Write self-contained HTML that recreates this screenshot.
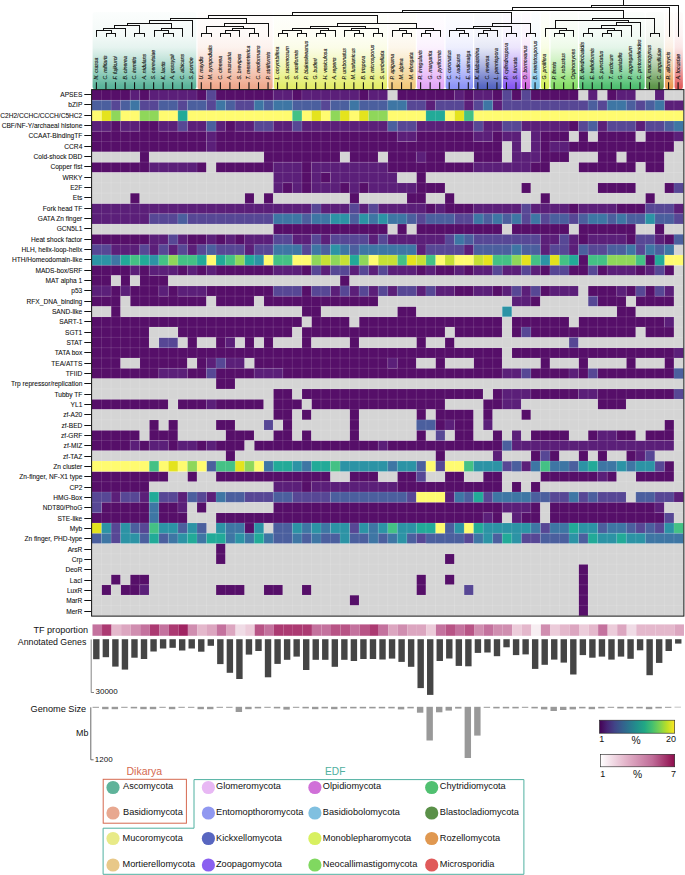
<!DOCTYPE html><html><head><meta charset="utf-8"><style>html,body{margin:0;padding:0;background:#fff;}svg{display:block;}text{font-family:"Liberation Sans",sans-serif;}</style></head><body>
<svg width="685" height="875" viewBox="0 0 685 875">
<rect width="685" height="875" fill="#fff"/>
<defs>
<linearGradient id="g0" x1="0" y1="0" x2="0" y2="1"><stop offset="0" stop-color="#55b297" stop-opacity="0.02"/><stop offset="0.3" stop-color="#55b297" stop-opacity="0.07"/><stop offset="0.46" stop-color="#55b297" stop-opacity="0.15"/><stop offset="0.59" stop-color="#55b297" stop-opacity="0.32"/><stop offset="0.71" stop-color="#55b297" stop-opacity="0.5"/><stop offset="0.82" stop-color="#55b297" stop-opacity="0.7"/><stop offset="0.95" stop-color="#55b297" stop-opacity="0.95"/><stop offset="1" stop-color="#55b297" stop-opacity="1"/></linearGradient>
<linearGradient id="g1" x1="0" y1="0" x2="0" y2="1"><stop offset="0" stop-color="#eea68a" stop-opacity="0.02"/><stop offset="0.3" stop-color="#eea68a" stop-opacity="0.07"/><stop offset="0.46" stop-color="#eea68a" stop-opacity="0.15"/><stop offset="0.59" stop-color="#eea68a" stop-opacity="0.32"/><stop offset="0.71" stop-color="#eea68a" stop-opacity="0.5"/><stop offset="0.82" stop-color="#eea68a" stop-opacity="0.7"/><stop offset="0.95" stop-color="#eea68a" stop-opacity="0.95"/><stop offset="1" stop-color="#eea68a" stop-opacity="1"/></linearGradient>
<linearGradient id="g2" x1="0" y1="0" x2="0" y2="1"><stop offset="0" stop-color="#e2ec66" stop-opacity="0.02"/><stop offset="0.3" stop-color="#e2ec66" stop-opacity="0.07"/><stop offset="0.46" stop-color="#e2ec66" stop-opacity="0.15"/><stop offset="0.59" stop-color="#e2ec66" stop-opacity="0.32"/><stop offset="0.71" stop-color="#e2ec66" stop-opacity="0.5"/><stop offset="0.82" stop-color="#e2ec66" stop-opacity="0.7"/><stop offset="0.95" stop-color="#e2ec66" stop-opacity="0.95"/><stop offset="1" stop-color="#e2ec66" stop-opacity="1"/></linearGradient>
<linearGradient id="g3" x1="0" y1="0" x2="0" y2="1"><stop offset="0" stop-color="#f0c878" stop-opacity="0.02"/><stop offset="0.3" stop-color="#f0c878" stop-opacity="0.07"/><stop offset="0.46" stop-color="#f0c878" stop-opacity="0.15"/><stop offset="0.59" stop-color="#f0c878" stop-opacity="0.32"/><stop offset="0.71" stop-color="#f0c878" stop-opacity="0.5"/><stop offset="0.82" stop-color="#f0c878" stop-opacity="0.7"/><stop offset="0.95" stop-color="#f0c878" stop-opacity="0.95"/><stop offset="1" stop-color="#f0c878" stop-opacity="1"/></linearGradient>
<linearGradient id="g4" x1="0" y1="0" x2="0" y2="1"><stop offset="0" stop-color="#e2a4f6" stop-opacity="0.02"/><stop offset="0.3" stop-color="#e2a4f6" stop-opacity="0.07"/><stop offset="0.46" stop-color="#e2a4f6" stop-opacity="0.15"/><stop offset="0.59" stop-color="#e2a4f6" stop-opacity="0.32"/><stop offset="0.71" stop-color="#e2a4f6" stop-opacity="0.5"/><stop offset="0.82" stop-color="#e2a4f6" stop-opacity="0.7"/><stop offset="0.95" stop-color="#e2a4f6" stop-opacity="0.95"/><stop offset="1" stop-color="#e2a4f6" stop-opacity="1"/></linearGradient>
<linearGradient id="g5" x1="0" y1="0" x2="0" y2="1"><stop offset="0" stop-color="#8a92f6" stop-opacity="0.02"/><stop offset="0.3" stop-color="#8a92f6" stop-opacity="0.07"/><stop offset="0.46" stop-color="#8a92f6" stop-opacity="0.15"/><stop offset="0.59" stop-color="#8a92f6" stop-opacity="0.32"/><stop offset="0.71" stop-color="#8a92f6" stop-opacity="0.5"/><stop offset="0.82" stop-color="#8a92f6" stop-opacity="0.7"/><stop offset="0.95" stop-color="#8a92f6" stop-opacity="0.95"/><stop offset="1" stop-color="#8a92f6" stop-opacity="1"/></linearGradient>
<linearGradient id="g6" x1="0" y1="0" x2="0" y2="1"><stop offset="0" stop-color="#5262c0" stop-opacity="0.02"/><stop offset="0.3" stop-color="#5262c0" stop-opacity="0.07"/><stop offset="0.46" stop-color="#5262c0" stop-opacity="0.15"/><stop offset="0.59" stop-color="#5262c0" stop-opacity="0.32"/><stop offset="0.71" stop-color="#5262c0" stop-opacity="0.5"/><stop offset="0.82" stop-color="#5262c0" stop-opacity="0.7"/><stop offset="0.95" stop-color="#5262c0" stop-opacity="0.95"/><stop offset="1" stop-color="#5262c0" stop-opacity="1"/></linearGradient>
<linearGradient id="g7" x1="0" y1="0" x2="0" y2="1"><stop offset="0" stop-color="#8454f0" stop-opacity="0.02"/><stop offset="0.3" stop-color="#8454f0" stop-opacity="0.07"/><stop offset="0.46" stop-color="#8454f0" stop-opacity="0.15"/><stop offset="0.59" stop-color="#8454f0" stop-opacity="0.32"/><stop offset="0.71" stop-color="#8454f0" stop-opacity="0.5"/><stop offset="0.82" stop-color="#8454f0" stop-opacity="0.7"/><stop offset="0.95" stop-color="#8454f0" stop-opacity="0.95"/><stop offset="1" stop-color="#8454f0" stop-opacity="1"/></linearGradient>
<linearGradient id="g8" x1="0" y1="0" x2="0" y2="1"><stop offset="0" stop-color="#d064de" stop-opacity="0.02"/><stop offset="0.3" stop-color="#d064de" stop-opacity="0.07"/><stop offset="0.46" stop-color="#d064de" stop-opacity="0.15"/><stop offset="0.59" stop-color="#d064de" stop-opacity="0.32"/><stop offset="0.71" stop-color="#d064de" stop-opacity="0.5"/><stop offset="0.82" stop-color="#d064de" stop-opacity="0.7"/><stop offset="0.95" stop-color="#d064de" stop-opacity="0.95"/><stop offset="1" stop-color="#d064de" stop-opacity="1"/></linearGradient>
<linearGradient id="g9" x1="0" y1="0" x2="0" y2="1"><stop offset="0" stop-color="#74c0e8" stop-opacity="0.02"/><stop offset="0.3" stop-color="#74c0e8" stop-opacity="0.07"/><stop offset="0.46" stop-color="#74c0e8" stop-opacity="0.15"/><stop offset="0.59" stop-color="#74c0e8" stop-opacity="0.32"/><stop offset="0.71" stop-color="#74c0e8" stop-opacity="0.5"/><stop offset="0.82" stop-color="#74c0e8" stop-opacity="0.7"/><stop offset="0.95" stop-color="#74c0e8" stop-opacity="0.95"/><stop offset="1" stop-color="#74c0e8" stop-opacity="1"/></linearGradient>
<linearGradient id="g10" x1="0" y1="0" x2="0" y2="1"><stop offset="0" stop-color="#d2f052" stop-opacity="0.02"/><stop offset="0.3" stop-color="#d2f052" stop-opacity="0.07"/><stop offset="0.46" stop-color="#d2f052" stop-opacity="0.15"/><stop offset="0.59" stop-color="#d2f052" stop-opacity="0.32"/><stop offset="0.71" stop-color="#d2f052" stop-opacity="0.5"/><stop offset="0.82" stop-color="#d2f052" stop-opacity="0.7"/><stop offset="0.95" stop-color="#d2f052" stop-opacity="0.95"/><stop offset="1" stop-color="#d2f052" stop-opacity="1"/></linearGradient>
<linearGradient id="g11" x1="0" y1="0" x2="0" y2="1"><stop offset="0" stop-color="#82dc62" stop-opacity="0.02"/><stop offset="0.3" stop-color="#82dc62" stop-opacity="0.07"/><stop offset="0.46" stop-color="#82dc62" stop-opacity="0.15"/><stop offset="0.59" stop-color="#82dc62" stop-opacity="0.32"/><stop offset="0.71" stop-color="#82dc62" stop-opacity="0.5"/><stop offset="0.82" stop-color="#82dc62" stop-opacity="0.7"/><stop offset="0.95" stop-color="#82dc62" stop-opacity="0.95"/><stop offset="1" stop-color="#82dc62" stop-opacity="1"/></linearGradient>
<linearGradient id="g12" x1="0" y1="0" x2="0" y2="1"><stop offset="0" stop-color="#4cbe6e" stop-opacity="0.02"/><stop offset="0.3" stop-color="#4cbe6e" stop-opacity="0.07"/><stop offset="0.46" stop-color="#4cbe6e" stop-opacity="0.15"/><stop offset="0.59" stop-color="#4cbe6e" stop-opacity="0.32"/><stop offset="0.71" stop-color="#4cbe6e" stop-opacity="0.5"/><stop offset="0.82" stop-color="#4cbe6e" stop-opacity="0.7"/><stop offset="0.95" stop-color="#4cbe6e" stop-opacity="0.95"/><stop offset="1" stop-color="#4cbe6e" stop-opacity="1"/></linearGradient>
<linearGradient id="g13" x1="0" y1="0" x2="0" y2="1"><stop offset="0" stop-color="#5a9446" stop-opacity="0.02"/><stop offset="0.3" stop-color="#5a9446" stop-opacity="0.07"/><stop offset="0.46" stop-color="#5a9446" stop-opacity="0.15"/><stop offset="0.59" stop-color="#5a9446" stop-opacity="0.32"/><stop offset="0.71" stop-color="#5a9446" stop-opacity="0.5"/><stop offset="0.82" stop-color="#5a9446" stop-opacity="0.7"/><stop offset="0.95" stop-color="#5a9446" stop-opacity="0.95"/><stop offset="1" stop-color="#5a9446" stop-opacity="1"/></linearGradient>
<linearGradient id="g14" x1="0" y1="0" x2="0" y2="1"><stop offset="0" stop-color="#e8984e" stop-opacity="0.02"/><stop offset="0.3" stop-color="#e8984e" stop-opacity="0.07"/><stop offset="0.46" stop-color="#e8984e" stop-opacity="0.15"/><stop offset="0.59" stop-color="#e8984e" stop-opacity="0.32"/><stop offset="0.71" stop-color="#e8984e" stop-opacity="0.5"/><stop offset="0.82" stop-color="#e8984e" stop-opacity="0.7"/><stop offset="0.95" stop-color="#e8984e" stop-opacity="0.95"/><stop offset="1" stop-color="#e8984e" stop-opacity="1"/></linearGradient>
<linearGradient id="g15" x1="0" y1="0" x2="0" y2="1"><stop offset="0" stop-color="#e05a5a" stop-opacity="0.02"/><stop offset="0.3" stop-color="#e05a5a" stop-opacity="0.07"/><stop offset="0.46" stop-color="#e05a5a" stop-opacity="0.15"/><stop offset="0.59" stop-color="#e05a5a" stop-opacity="0.32"/><stop offset="0.71" stop-color="#e05a5a" stop-opacity="0.5"/><stop offset="0.82" stop-color="#e05a5a" stop-opacity="0.7"/><stop offset="0.95" stop-color="#e05a5a" stop-opacity="0.95"/><stop offset="1" stop-color="#e05a5a" stop-opacity="1"/></linearGradient>
<linearGradient id="vir" x1="0" y1="0" x2="1" y2="0">
<stop offset="0.00" stop-color="#440154"/>
<stop offset="0.10" stop-color="#482475"/>
<stop offset="0.20" stop-color="#414487"/>
<stop offset="0.30" stop-color="#355f8d"/>
<stop offset="0.40" stop-color="#2a788e"/>
<stop offset="0.50" stop-color="#21918c"/>
<stop offset="0.60" stop-color="#22a884"/>
<stop offset="0.70" stop-color="#44bf70"/>
<stop offset="0.80" stop-color="#7ad151"/>
<stop offset="0.90" stop-color="#bddf26"/>
<stop offset="1.00" stop-color="#fde725"/>
</linearGradient>
<linearGradient id="pnk" x1="0" y1="0" x2="1" y2="0"><stop offset="0" stop-color="#ffffff"/><stop offset="0.35" stop-color="#e2b2c8"/><stop offset="0.7" stop-color="#c06c98"/><stop offset="1" stop-color="#8e0c4c"/></linearGradient>
</defs>
<rect x="92.60" y="12.0" width="103.74" height="77.30" rx="2.5" fill="url(#g0)"/>
<rect x="197.54" y="12.0" width="75.12" height="77.30" rx="2.5" fill="url(#g1)"/>
<rect x="273.86" y="12.0" width="113.28" height="77.30" rx="2.5" fill="url(#g2)"/>
<rect x="388.34" y="12.0" width="27.42" height="77.30" rx="2.5" fill="url(#g3)"/>
<rect x="416.96" y="12.0" width="27.42" height="77.30" rx="2.5" fill="url(#g4)"/>
<rect x="445.58" y="12.0" width="27.42" height="77.30" rx="2.5" fill="url(#g5)"/>
<rect x="474.20" y="12.0" width="27.42" height="77.30" rx="2.5" fill="url(#g6)"/>
<rect x="502.82" y="12.0" width="17.88" height="77.30" rx="2.5" fill="url(#g7)"/>
<rect x="521.90" y="12.0" width="8.34" height="77.30" rx="2.5" fill="url(#g8)"/>
<rect x="531.44" y="12.0" width="8.34" height="77.30" rx="2.5" fill="url(#g9)"/>
<rect x="540.98" y="12.0" width="8.34" height="77.30" rx="2.5" fill="url(#g10)"/>
<rect x="550.52" y="12.0" width="27.42" height="77.30" rx="2.5" fill="url(#g11)"/>
<rect x="579.14" y="12.0" width="65.58" height="77.30" rx="2.5" fill="url(#g12)"/>
<rect x="645.92" y="12.0" width="17.88" height="77.30" rx="2.5" fill="url(#g13)"/>
<rect x="665.00" y="12.0" width="8.34" height="77.30" rx="2.5" fill="url(#g14)"/>
<rect x="674.54" y="12.0" width="8.34" height="77.30" rx="2.5" fill="url(#g15)"/>
<path d="M106.50 33.50L115.50 33.50 M106.50 33.50L106.50 36.40 M115.50 33.50L115.50 36.40 M96.50 30.50L111.50 30.50 M96.50 30.50L96.50 36.40 M111.50 30.50L111.50 33.50 M103.50 28.50L125.50 28.50 M103.50 28.50L103.50 30.50 M125.50 28.50L125.50 36.40 M134.50 33.50L144.50 33.50 M134.50 33.50L134.50 36.40 M144.50 33.50L144.50 36.40 M114.50 25.50L139.50 25.50 M114.50 25.50L114.50 28.50 M139.50 25.50L139.50 33.50 M163.50 33.50L173.50 33.50 M163.50 33.50L163.50 36.40 M173.50 33.50L173.50 36.40 M154.50 30.50L168.50 30.50 M154.50 30.50L154.50 36.40 M168.50 30.50L168.50 33.50 M161.50 28.50L182.50 28.50 M161.50 28.50L161.50 30.50 M182.50 28.50L182.50 36.40 M127.50 23.50L171.50 23.50 M127.50 23.50L127.50 25.50 M171.50 23.50L171.50 28.50 M149.50 20.50L192.50 20.50 M149.50 20.50L149.50 23.50 M192.50 20.50L192.50 36.40 M201.50 33.50L211.50 33.50 M201.50 33.50L201.50 36.40 M211.50 33.50L211.50 36.40 M220.50 33.50L230.50 33.50 M220.50 33.50L220.50 36.40 M230.50 33.50L230.50 36.40 M225.50 30.50L239.50 30.50 M225.50 30.50L225.50 33.50 M239.50 30.50L239.50 36.40 M249.50 33.50L258.50 33.50 M249.50 33.50L249.50 36.40 M258.50 33.50L258.50 36.40 M232.50 28.50L254.50 28.50 M232.50 28.50L232.50 30.50 M254.50 28.50L254.50 33.50 M206.50 26.50L243.50 26.50 M206.50 26.50L206.50 33.50 M243.50 26.50L243.50 28.50 M224.50 23.50L268.50 23.50 M224.50 23.50L224.50 26.50 M268.50 23.50L268.50 36.40 M170.50 18.50L246.50 18.50 M170.50 18.50L170.50 20.50 M246.50 18.50L246.50 23.50 M278.50 33.50L287.50 33.50 M278.50 33.50L278.50 36.40 M287.50 33.50L287.50 36.40 M297.50 33.50L306.50 33.50 M297.50 33.50L297.50 36.40 M306.50 33.50L306.50 36.40 M282.50 30.50L301.50 30.50 M282.50 30.50L282.50 33.50 M301.50 30.50L301.50 33.50 M316.50 33.50L325.50 33.50 M316.50 33.50L316.50 36.40 M325.50 33.50L325.50 36.40 M320.50 30.50L335.50 30.50 M320.50 30.50L320.50 33.50 M335.50 30.50L335.50 36.40 M292.50 28.50L328.50 28.50 M292.50 28.50L292.50 30.50 M328.50 28.50L328.50 30.50 M354.50 33.50L363.50 33.50 M354.50 33.50L354.50 36.40 M363.50 33.50L363.50 36.40 M344.50 30.50L359.50 30.50 M344.50 30.50L344.50 36.40 M359.50 30.50L359.50 33.50 M373.50 33.50L382.50 33.50 M373.50 33.50L373.50 36.40 M382.50 33.50L382.50 36.40 M351.50 28.50L378.50 28.50 M351.50 28.50L351.50 30.50 M378.50 28.50L378.50 33.50 M310.50 26.50L365.50 26.50 M310.50 26.50L310.50 28.50 M365.50 26.50L365.50 28.50 M402.50 33.50L411.50 33.50 M402.50 33.50L402.50 36.40 M411.50 33.50L411.50 36.40 M392.50 30.50L406.50 30.50 M392.50 30.50L392.50 36.40 M406.50 30.50L406.50 33.50 M421.50 33.50L430.50 33.50 M421.50 33.50L421.50 36.40 M430.50 33.50L430.50 36.40 M425.50 30.50L440.50 30.50 M425.50 30.50L425.50 33.50 M440.50 30.50L440.50 36.40 M399.50 28.50L433.50 28.50 M399.50 28.50L399.50 30.50 M433.50 28.50L433.50 30.50 M337.50 23.50L416.50 23.50 M337.50 23.50L337.50 26.50 M416.50 23.50L416.50 28.50 M208.50 15.50L377.50 15.50 M208.50 15.50L208.50 18.50 M377.50 15.50L377.50 23.50 M459.50 33.50L468.50 33.50 M459.50 33.50L459.50 36.40 M468.50 33.50L468.50 36.40 M449.50 30.50L464.50 30.50 M449.50 30.50L449.50 36.40 M464.50 30.50L464.50 33.50 M478.50 33.50L487.50 33.50 M478.50 33.50L478.50 36.40 M487.50 33.50L487.50 36.40 M483.50 30.50L497.50 30.50 M483.50 30.50L483.50 33.50 M497.50 30.50L497.50 36.40 M456.50 28.50L490.50 28.50 M456.50 28.50L456.50 30.50 M490.50 28.50L490.50 30.50 M506.50 33.50L516.50 33.50 M506.50 33.50L506.50 36.40 M516.50 33.50L516.50 36.40 M473.50 26.50L511.50 26.50 M473.50 26.50L473.50 28.50 M511.50 26.50L511.50 33.50 M526.50 33.50L535.50 33.50 M526.50 33.50L526.50 36.40 M535.50 33.50L535.50 36.40 M492.50 23.50L530.50 23.50 M492.50 23.50L492.50 26.50 M530.50 23.50L530.50 33.50 M292.50 12.50L511.50 12.50 M292.50 12.50L292.50 15.50 M511.50 12.50L511.50 23.50 M554.50 33.50L564.50 33.50 M554.50 33.50L554.50 36.40 M564.50 33.50L564.50 36.40 M559.50 30.50L573.50 30.50 M559.50 30.50L559.50 33.50 M573.50 30.50L573.50 36.40 M545.50 28.50L566.50 28.50 M545.50 28.50L545.50 36.40 M566.50 28.50L566.50 30.50 M583.50 33.50L592.50 33.50 M583.50 33.50L583.50 36.40 M592.50 33.50L592.50 36.40 M602.50 33.50L611.50 33.50 M602.50 33.50L602.50 36.40 M611.50 33.50L611.50 36.40 M607.50 30.50L621.50 30.50 M607.50 30.50L607.50 33.50 M621.50 30.50L621.50 36.40 M588.50 28.50L614.50 28.50 M588.50 28.50L588.50 33.50 M614.50 28.50L614.50 30.50 M601.50 25.50L631.50 25.50 M601.50 25.50L601.50 28.50 M631.50 25.50L631.50 36.40 M616.50 22.50L640.50 22.50 M616.50 22.50L616.50 25.50 M640.50 22.50L640.50 36.40 M555.50 20.50L628.50 20.50 M555.50 20.50L555.50 28.50 M628.50 20.50L628.50 22.50 M650.50 33.50L659.50 33.50 M650.50 33.50L650.50 36.40 M659.50 33.50L659.50 36.40 M592.50 18.50L654.50 18.50 M592.50 18.50L592.50 20.50 M654.50 18.50L654.50 33.50 M402.50 10.50L623.50 10.50 M402.50 10.50L402.50 12.50 M623.50 10.50L623.50 18.50 M512.50 7.50L669.50 7.50 M512.50 7.50L512.50 10.50 M669.50 7.50L669.50 36.40 M591.50 5.50L678.50 5.50 M591.50 5.50L591.50 7.50 M678.50 5.50L678.50 36.40 M623.50 5.50L623.50 0.00" stroke="#111" stroke-width="1" fill="none" stroke-linecap="square"/>
<text transform="translate(97.90,79.5) rotate(-90)" font-size="5.2" font-style="italic" fill="#111" stroke="#111" stroke-width="0.12">N. crassa</text>
<text transform="translate(107.44,79.5) rotate(-90)" font-size="5.2" font-style="italic" fill="#111" stroke="#111" stroke-width="0.12">C. militaris</text>
<text transform="translate(116.97,79.5) rotate(-90)" font-size="5.2" font-style="italic" fill="#111" stroke="#111" stroke-width="0.12">F. fujikuroi</text>
<text transform="translate(126.51,79.5) rotate(-90)" font-size="5.2" font-style="italic" fill="#111" stroke="#111" stroke-width="0.12">B. cinerea</text>
<text transform="translate(136.04,79.5) rotate(-90)" font-size="5.2" font-style="italic" fill="#111" stroke="#111" stroke-width="0.12">C. immitis</text>
<text transform="translate(145.58,79.5) rotate(-90)" font-size="5.2" font-style="italic" fill="#111" stroke="#111" stroke-width="0.12">A. nidulans</text>
<text transform="translate(155.12,79.5) rotate(-90)" font-size="5.2" font-style="italic" fill="#111" stroke="#111" stroke-width="0.12">S. cerevisiae</text>
<text transform="translate(164.65,79.5) rotate(-90)" font-size="5.2" font-style="italic" fill="#111" stroke="#111" stroke-width="0.12">K. lactis</text>
<text transform="translate(174.19,79.5) rotate(-90)" font-size="5.2" font-style="italic" fill="#111" stroke="#111" stroke-width="0.12">A. gossypii</text>
<text transform="translate(183.72,79.5) rotate(-90)" font-size="5.2" font-style="italic" fill="#111" stroke="#111" stroke-width="0.12">C. albicans</text>
<text transform="translate(193.26,79.5) rotate(-90)" font-size="5.2" font-style="italic" fill="#111" stroke="#111" stroke-width="0.12">S. pombe</text>
<text transform="translate(202.80,79.5) rotate(-90)" font-size="5.2" font-style="italic" fill="#111" stroke="#111" stroke-width="0.12">U. maydis</text>
<text transform="translate(212.33,79.5) rotate(-90)" font-size="5.2" font-style="italic" fill="#111" stroke="#111" stroke-width="0.12">M. sympodialis</text>
<text transform="translate(221.87,79.5) rotate(-90)" font-size="5.2" font-style="italic" fill="#111" stroke="#111" stroke-width="0.12">C. cinerea</text>
<text transform="translate(231.40,79.5) rotate(-90)" font-size="5.2" font-style="italic" fill="#111" stroke="#111" stroke-width="0.12">A. muscaria</text>
<text transform="translate(240.94,79.5) rotate(-90)" font-size="5.2" font-style="italic" fill="#111" stroke="#111" stroke-width="0.12">S. brevipes</text>
<text transform="translate(250.48,79.5) rotate(-90)" font-size="5.2" font-style="italic" fill="#111" stroke="#111" stroke-width="0.12">T. mesenterica</text>
<text transform="translate(260.01,79.5) rotate(-90)" font-size="5.2" font-style="italic" fill="#111" stroke="#111" stroke-width="0.12">C. neoformans</text>
<text transform="translate(269.55,79.5) rotate(-90)" font-size="5.2" font-style="italic" fill="#111" stroke="#111" stroke-width="0.12">P. striiformis</text>
<text transform="translate(279.08,79.5) rotate(-90)" font-size="5.2" font-style="italic" fill="#111" stroke="#111" stroke-width="0.12">L. corymbifera</text>
<text transform="translate(288.62,79.5) rotate(-90)" font-size="5.2" font-style="italic" fill="#111" stroke="#111" stroke-width="0.12">S. racemosum</text>
<text transform="translate(298.16,79.5) rotate(-90)" font-size="5.2" font-style="italic" fill="#111" stroke="#111" stroke-width="0.12">S. vasiformis</text>
<text transform="translate(307.69,79.5) rotate(-90)" font-size="5.2" font-style="italic" fill="#111" stroke="#111" stroke-width="0.12">P. blakesleeanus</text>
<text transform="translate(317.23,79.5) rotate(-90)" font-size="5.2" font-style="italic" fill="#111" stroke="#111" stroke-width="0.12">G. butleri</text>
<text transform="translate(326.76,79.5) rotate(-90)" font-size="5.2" font-style="italic" fill="#111" stroke="#111" stroke-width="0.12">H. vesiculosa</text>
<text transform="translate(336.30,79.5) rotate(-90)" font-size="5.2" font-style="italic" fill="#111" stroke="#111" stroke-width="0.12">A. repens</text>
<text transform="translate(345.84,79.5) rotate(-90)" font-size="5.2" font-style="italic" fill="#111" stroke="#111" stroke-width="0.12">P. umbonatus</text>
<text transform="translate(355.37,79.5) rotate(-90)" font-size="5.2" font-style="italic" fill="#111" stroke="#111" stroke-width="0.12">M. lusitanicus</text>
<text transform="translate(364.91,79.5) rotate(-90)" font-size="5.2" font-style="italic" fill="#111" stroke="#111" stroke-width="0.12">B. trispora</text>
<text transform="translate(374.44,79.5) rotate(-90)" font-size="5.2" font-style="italic" fill="#111" stroke="#111" stroke-width="0.12">R. microsporus</text>
<text transform="translate(383.98,79.5) rotate(-90)" font-size="5.2" font-style="italic" fill="#111" stroke="#111" stroke-width="0.12">S. umbellata</text>
<text transform="translate(393.52,79.5) rotate(-90)" font-size="5.2" font-style="italic" fill="#111" stroke="#111" stroke-width="0.12">P. apigama</text>
<text transform="translate(403.05,79.5) rotate(-90)" font-size="5.2" font-style="italic" fill="#111" stroke="#111" stroke-width="0.12">M. alpina</text>
<text transform="translate(412.59,79.5) rotate(-90)" font-size="5.2" font-style="italic" fill="#111" stroke="#111" stroke-width="0.12">M. elongata</text>
<text transform="translate(422.12,79.5) rotate(-90)" font-size="5.2" font-style="italic" fill="#111" stroke="#111" stroke-width="0.12">R. irregularis</text>
<text transform="translate(431.66,79.5) rotate(-90)" font-size="5.2" font-style="italic" fill="#111" stroke="#111" stroke-width="0.12">G. margarita</text>
<text transform="translate(441.20,79.5) rotate(-90)" font-size="5.2" font-style="italic" fill="#111" stroke="#111" stroke-width="0.12">G. pyriformis</text>
<text transform="translate(450.73,79.5) rotate(-90)" font-size="5.2" font-style="italic" fill="#111" stroke="#111" stroke-width="0.12">C. coronatus</text>
<text transform="translate(460.27,79.5) rotate(-90)" font-size="5.2" font-style="italic" fill="#111" stroke="#111" stroke-width="0.12">Z. radicans</text>
<text transform="translate(469.80,79.5) rotate(-90)" font-size="5.2" font-style="italic" fill="#111" stroke="#111" stroke-width="0.12">E. maimaiga</text>
<text transform="translate(479.34,79.5) rotate(-90)" font-size="5.2" font-style="italic" fill="#111" stroke="#111" stroke-width="0.12">K. alabastrina</text>
<text transform="translate(488.88,79.5) rotate(-90)" font-size="5.2" font-style="italic" fill="#111" stroke="#111" stroke-width="0.12">C. reversa</text>
<text transform="translate(498.41,79.5) rotate(-90)" font-size="5.2" font-style="italic" fill="#111" stroke="#111" stroke-width="0.12">L. pennispora</text>
<text transform="translate(507.95,79.5) rotate(-90)" font-size="5.2" font-style="italic" fill="#111" stroke="#111" stroke-width="0.12">P. cylindrospora</text>
<text transform="translate(517.48,79.5) rotate(-90)" font-size="5.2" font-style="italic" fill="#111" stroke="#111" stroke-width="0.12">S. furcata</text>
<text transform="translate(527.02,79.5) rotate(-90)" font-size="5.2" font-style="italic" fill="#111" stroke="#111" stroke-width="0.12">O. bornovanus</text>
<text transform="translate(536.56,79.5) rotate(-90)" font-size="5.2" font-style="italic" fill="#111" stroke="#111" stroke-width="0.12">B. meristosporus</text>
<text transform="translate(546.09,79.5) rotate(-90)" font-size="5.2" font-style="italic" fill="#111" stroke="#111" stroke-width="0.12">G. prolifera</text>
<text transform="translate(555.63,79.5) rotate(-90)" font-size="5.2" font-style="italic" fill="#111" stroke="#111" stroke-width="0.12">P. finnis</text>
<text transform="translate(565.16,79.5) rotate(-90)" font-size="5.2" font-style="italic" fill="#111" stroke="#111" stroke-width="0.12">A. robustus</text>
<text transform="translate(574.70,79.5) rotate(-90)" font-size="5.2" font-style="italic" fill="#111" stroke="#111" stroke-width="0.12">Orpinomyces</text>
<text transform="translate(584.24,79.5) rotate(-90)" font-size="5.2" font-style="italic" fill="#111" stroke="#111" stroke-width="0.12">B. dendrobatidis</text>
<text transform="translate(593.77,79.5) rotate(-90)" font-size="5.2" font-style="italic" fill="#111" stroke="#111" stroke-width="0.12">E. helioformis</text>
<text transform="translate(603.31,79.5) rotate(-90)" font-size="5.2" font-style="italic" fill="#111" stroke="#111" stroke-width="0.12">S. punctatus</text>
<text transform="translate(612.84,79.5) rotate(-90)" font-size="5.2" font-style="italic" fill="#111" stroke="#111" stroke-width="0.12">T. arcticum</text>
<text transform="translate(622.38,79.5) rotate(-90)" font-size="5.2" font-style="italic" fill="#111" stroke="#111" stroke-width="0.12">G. variabilis</text>
<text transform="translate(631.92,79.5) rotate(-90)" font-size="5.2" font-style="italic" fill="#111" stroke="#111" stroke-width="0.12">P. aggregatum</text>
<text transform="translate(641.45,79.5) rotate(-90)" font-size="5.2" font-style="italic" fill="#111" stroke="#111" stroke-width="0.12">C. protostelioides</text>
<text transform="translate(650.99,79.5) rotate(-90)" font-size="5.2" font-style="italic" fill="#111" stroke="#111" stroke-width="0.12">A. macrogynus</text>
<text transform="translate(660.52,79.5) rotate(-90)" font-size="5.2" font-style="italic" fill="#111" stroke="#111" stroke-width="0.12">C. anguillulae</text>
<text transform="translate(670.06,79.5) rotate(-90)" font-size="5.2" font-style="italic" fill="#111" stroke="#111" stroke-width="0.12">R. allomycis</text>
<text transform="translate(679.60,79.5) rotate(-90)" font-size="5.2" font-style="italic" fill="#111" stroke="#111" stroke-width="0.12">A. locustae</text>
<path d="M96.40 82.2V89.2 M105.94 82.2V89.2 M115.47 82.2V89.2 M125.01 82.2V89.2 M134.54 82.2V89.2 M144.08 82.2V89.2 M153.62 82.2V89.2 M163.15 82.2V89.2 M172.69 82.2V89.2 M182.22 82.2V89.2 M191.76 82.2V89.2 M201.30 82.2V89.2 M210.83 82.2V89.2 M220.37 82.2V89.2 M229.90 82.2V89.2 M239.44 82.2V89.2 M248.98 82.2V89.2 M258.51 82.2V89.2 M268.05 82.2V89.2 M277.58 82.2V89.2 M287.12 82.2V89.2 M296.66 82.2V89.2 M306.19 82.2V89.2 M315.73 82.2V89.2 M325.26 82.2V89.2 M334.80 82.2V89.2 M344.34 82.2V89.2 M353.87 82.2V89.2 M363.41 82.2V89.2 M372.94 82.2V89.2 M382.48 82.2V89.2 M392.02 82.2V89.2 M401.55 82.2V89.2 M411.09 82.2V89.2 M420.62 82.2V89.2 M430.16 82.2V89.2 M439.70 82.2V89.2 M449.23 82.2V89.2 M458.77 82.2V89.2 M468.30 82.2V89.2 M477.84 82.2V89.2 M487.38 82.2V89.2 M496.91 82.2V89.2 M506.45 82.2V89.2 M515.98 82.2V89.2 M525.52 82.2V89.2 M535.06 82.2V89.2 M544.59 82.2V89.2 M554.13 82.2V89.2 M563.66 82.2V89.2 M573.20 82.2V89.2 M582.74 82.2V89.2 M592.27 82.2V89.2 M601.81 82.2V89.2 M611.34 82.2V89.2 M620.88 82.2V89.2 M630.42 82.2V89.2 M639.95 82.2V89.2 M649.49 82.2V89.2 M659.02 82.2V89.2 M668.56 82.2V89.2 M678.10 82.2V89.2" stroke="#111" stroke-width="1.1"/>
<path fill="#560f69" d="M92.00 90.00H130.21V100.36H92.00ZM139.70 90.00H149.29V100.36H139.70ZM196.94 90.00H206.53V100.36H196.94ZM216.02 90.00H273.31V100.36H216.02ZM292.34 90.00H301.93V100.36H292.34ZM359.12 90.00H368.71V100.36H359.12ZM397.28 90.00H454.57V100.36H397.28ZM464.06 90.00H473.65V100.36H464.06ZM492.68 90.00H502.27V100.36H492.68ZM511.76 90.00H521.35V100.36H511.76ZM530.84 90.00H578.59V100.36H530.84ZM607.16 90.00H616.75V100.36H607.16ZM111.08 120.92H120.67V131.28H111.08ZM139.70 120.92H158.83V131.28H139.70ZM225.56 120.92H235.15V131.28H225.56ZM569.00 120.92H578.59V131.28H569.00ZM92.00 131.23H206.53V141.59H92.00ZM216.02 131.23H397.33V141.59H216.02ZM416.36 131.23H473.65V141.59H416.36ZM492.68 131.23H502.27V141.59H492.68ZM540.38 131.23H569.05V141.59H540.38ZM578.54 131.23H588.13V141.59H578.54ZM597.62 131.23H635.83V141.59H597.62ZM645.32 131.23H673.99V141.59H645.32ZM92.00 141.54H206.53V151.90H92.00ZM216.02 141.54H502.27V151.90H216.02ZM540.38 141.54H549.97V151.90H540.38ZM569.00 141.54H673.99V151.90H569.00ZM139.70 151.85H149.29V162.21H139.70ZM263.72 151.85H340.09V162.21H263.72ZM349.58 151.85H378.25V162.21H349.58ZM387.74 151.85H416.41V162.21H387.74ZM425.90 151.85H445.03V162.21H425.90ZM473.60 151.85H502.27V162.21H473.60ZM540.38 151.85H569.05V162.21H540.38ZM597.62 151.85H616.75V162.21H597.62ZM626.24 151.85H664.45V162.21H626.24ZM92.00 162.16H149.29V172.51H92.00ZM196.94 162.16H206.53V172.51H196.94ZM216.02 162.16H273.31V172.51H216.02ZM301.88 162.16H311.47V172.51H301.88ZM387.74 162.16H473.65V172.51H387.74ZM530.84 162.16H549.97V172.51H530.84ZM578.54 162.16H635.83V172.51H578.54ZM645.32 162.16H664.45V172.51H645.32ZM301.88 172.46H311.47V182.82H301.88ZM320.96 172.46H330.55V182.82H320.96ZM416.36 172.46H425.95V182.82H416.36ZM282.80 182.77H292.39V193.13H282.80ZM301.88 182.77H311.47V193.13H301.88ZM340.04 182.77H349.63V193.13H340.04ZM359.12 182.77H368.71V193.13H359.12ZM416.36 182.77H445.03V193.13H416.36ZM521.30 182.77H530.89V193.13H521.30ZM597.62 182.77H635.83V193.13H597.62ZM664.40 182.77H673.99V193.13H664.40ZM130.16 193.08H139.75V203.44H130.16ZM244.64 193.08H254.23V203.44H244.64ZM263.72 193.08H273.31V203.44H263.72ZM349.58 193.08H359.17V203.44H349.58ZM406.82 193.08H425.95V203.44H406.82ZM444.98 193.08H454.57V203.44H444.98ZM540.38 193.08H549.97V203.44H540.38ZM645.32 193.08H654.91V203.44H645.32ZM425.90 203.39H435.49V213.75H425.90ZM444.98 203.39H473.65V213.75H444.98ZM569.00 203.39H578.59V213.75H569.00ZM616.70 203.39H645.37V213.75H616.70ZM273.26 224.00H387.79V234.36H273.26ZM397.28 224.00H406.87V234.36H397.28ZM416.36 224.00H502.27V234.36H416.36ZM511.76 224.00H569.05V234.36H511.76ZM578.54 224.00H635.83V234.36H578.54ZM654.86 224.00H664.45V234.36H654.86ZM92.00 234.31H149.29V244.67H92.00ZM187.40 234.31H206.53V244.67H187.40ZM216.02 234.31H225.61V244.67H216.02ZM235.10 234.31H244.69V244.67H235.10ZM578.54 234.31H588.13V244.67H578.54ZM626.24 234.31H635.83V244.67H626.24ZM664.40 234.31H673.99V244.67H664.40ZM578.54 254.93H588.13V265.29H578.54ZM645.32 254.93H654.91V265.29H645.32ZM92.00 265.24H130.21V275.59H92.00ZM139.70 265.24H149.29V275.59H139.70ZM177.86 265.24H187.45V275.59H177.86ZM196.94 265.24H206.53V275.59H196.94ZM216.02 265.24H273.31V275.59H216.02ZM301.88 265.24H311.47V275.59H301.88ZM416.36 265.24H425.95V275.59H416.36ZM435.44 265.24H454.57V275.59H435.44ZM464.06 265.24H473.65V275.59H464.06ZM540.38 265.24H549.97V275.59H540.38ZM569.00 265.24H588.13V275.59H569.00ZM597.62 265.24H607.21V275.59H597.62ZM635.78 265.24H645.37V275.59H635.78ZM664.40 265.24H673.99V275.59H664.40ZM92.00 275.54H111.13V285.90H92.00ZM120.62 275.54H130.21V285.90H120.62ZM139.70 275.54H168.37V285.90H139.70ZM340.04 275.54H349.63V285.90H340.04ZM111.08 285.85H120.67V296.21H111.08ZM130.16 285.85H158.83V296.21H130.16ZM168.32 285.85H177.91V296.21H168.32ZM206.48 285.85H273.31V296.21H206.48ZM301.88 285.85H311.47V296.21H301.88ZM454.52 285.85H473.65V296.21H454.52ZM492.68 285.85H502.27V296.21H492.68ZM540.38 285.85H549.97V296.21H540.38ZM588.08 285.85H616.75V296.21H588.08ZM626.24 285.85H635.83V296.21H626.24ZM645.32 285.85H654.91V296.21H645.32ZM92.00 296.16H120.67V306.52H92.00ZM130.16 296.16H206.53V306.52H130.16ZM216.02 296.16H254.23V306.52H216.02ZM263.72 296.16H378.25V306.52H263.72ZM530.84 296.16H540.43V306.52H530.84ZM597.62 296.16H626.29V306.52H597.62ZM635.78 296.16H673.99V306.52H635.78ZM111.08 306.47H120.67V316.83H111.08ZM301.88 306.47H321.01V316.83H301.88ZM397.28 306.47H416.41V316.83H397.28ZM616.70 306.47H635.83V316.83H616.70ZM92.00 316.78H301.93V327.13H92.00ZM311.42 316.78H349.63V327.13H311.42ZM359.12 316.78H502.27V327.13H359.12ZM511.76 316.78H569.05V327.13H511.76ZM578.54 316.78H664.45V327.13H578.54ZM92.00 327.08H149.29V337.44H92.00ZM177.86 327.08H292.39V337.44H177.86ZM301.88 327.08H445.03V337.44H301.88ZM454.52 327.08H502.27V337.44H454.52ZM511.76 327.08H521.35V337.44H511.76ZM530.84 327.08H635.83V337.44H530.84ZM645.32 327.08H673.99V337.44H645.32ZM92.00 337.39H149.29V347.75H92.00ZM187.40 337.39H196.99V347.75H187.40ZM216.02 337.39H225.61V347.75H216.02ZM244.64 337.39H254.23V347.75H244.64ZM263.72 337.39H273.31V347.75H263.72ZM301.88 337.39H311.47V347.75H301.88ZM349.58 337.39H359.17V347.75H349.58ZM416.36 337.39H425.95V347.75H416.36ZM444.98 337.39H454.57V347.75H444.98ZM92.00 347.70H502.27V358.06H92.00ZM511.76 347.70H673.99V358.06H511.76ZM92.00 358.01H120.67V368.37H92.00ZM139.70 358.01H187.45V368.37H139.70ZM196.94 358.01H206.53V368.37H196.94ZM254.18 358.01H387.79V368.37H254.18ZM397.28 358.01H416.41V368.37H397.28ZM435.44 358.01H445.03V368.37H435.44ZM473.60 358.01H502.27V368.37H473.60ZM540.38 358.01H549.97V368.37H540.38ZM578.54 358.01H588.13V368.37H578.54ZM626.24 358.01H635.83V368.37H626.24ZM664.40 358.01H673.99V368.37H664.40ZM92.00 368.32H158.83V378.67H92.00ZM187.40 368.32H206.53V378.67H187.40ZM216.02 368.32H254.23V378.67H216.02ZM282.80 368.32H502.27V378.67H282.80ZM530.84 368.32H569.05V378.67H530.84ZM578.54 368.32H588.13V378.67H578.54ZM597.62 368.32H673.99V378.67H597.62ZM216.02 378.62H235.15V388.98H216.02ZM273.26 388.93H292.39V399.29H273.26ZM301.88 388.93H483.19V399.29H301.88ZM492.68 388.93H502.27V399.29H492.68ZM530.84 388.93H578.59V399.29H530.84ZM597.62 388.93H673.99V399.29H597.62ZM92.00 399.24H168.37V409.60H92.00ZM177.86 399.24H206.53V409.60H177.86ZM216.02 399.24H263.77V409.60H216.02ZM273.26 399.24H301.93V409.60H273.26ZM311.42 399.24H445.03V409.60H311.42ZM483.14 399.24H502.27V409.60H483.14ZM597.62 399.24H626.29V409.60H597.62ZM273.26 409.55H292.39V419.91H273.26ZM301.88 409.55H311.47V419.91H301.88ZM349.58 409.55H359.17V419.91H349.58ZM416.36 409.55H425.95V419.91H416.36ZM435.44 409.55H473.65V419.91H435.44ZM483.14 409.55H492.73V419.91H483.14ZM521.30 409.55H530.89V419.91H521.30ZM149.24 419.86H158.83V430.21H149.24ZM168.32 419.86H177.91V430.21H168.32ZM216.02 419.86H235.15V430.21H216.02ZM282.80 419.86H292.39V430.21H282.80ZM349.58 419.86H359.17V430.21H349.58ZM435.44 419.86H445.03V430.21H435.44ZM454.52 419.86H473.65V430.21H454.52ZM664.40 419.86H673.99V430.21H664.40ZM92.00 430.16H139.75V440.52H92.00ZM149.24 430.16H177.91V440.52H149.24ZM225.56 430.16H254.23V440.52H225.56ZM273.26 430.16H292.39V440.52H273.26ZM301.88 430.16H311.47V440.52H301.88ZM349.58 430.16H359.17V440.52H349.58ZM416.36 430.16H425.95V440.52H416.36ZM454.52 430.16H473.65V440.52H454.52ZM492.68 430.16H502.27V440.52H492.68ZM530.84 430.16H569.05V440.52H530.84ZM588.08 430.16H597.67V440.52H588.08ZM616.70 430.16H635.83V440.52H616.70ZM645.32 430.16H673.99V440.52H645.32ZM92.00 440.47H130.21V450.83H92.00ZM139.70 440.47H149.29V450.83H139.70ZM168.32 440.47H177.91V450.83H168.32ZM196.94 440.47H206.53V450.83H196.94ZM216.02 440.47H244.69V450.83H216.02ZM254.18 440.47H378.25V450.83H254.18ZM387.74 440.47H502.27V450.83H387.74ZM225.56 450.78H235.15V461.14H225.56ZM435.44 450.78H445.03V461.14H435.44ZM530.84 450.78H540.43V461.14H530.84ZM549.92 450.78H559.51V461.14H549.92ZM578.54 450.78H588.13V461.14H578.54ZM597.62 450.78H607.21V461.14H597.62ZM626.24 450.78H635.83V461.14H626.24ZM664.40 461.09H673.99V471.45H664.40ZM92.00 471.40H168.37V481.75H92.00ZM187.40 471.40H196.99V481.75H187.40ZM216.02 471.40H330.55V481.75H216.02ZM349.58 471.40H378.25V481.75H349.58ZM397.28 471.40H416.41V481.75H397.28ZM444.98 471.40H464.11V481.75H444.98ZM483.14 471.40H502.27V481.75H483.14ZM540.38 471.40H597.67V481.75H540.38ZM607.16 471.40H616.75V481.75H607.16ZM635.78 471.40H673.99V481.75H635.78ZM92.00 481.70H149.29V492.06H92.00ZM301.88 481.70H311.47V492.06H301.88ZM397.28 481.70H502.27V492.06H397.28ZM511.76 481.70H521.35V492.06H511.76ZM530.84 481.70H540.43V492.06H530.84ZM101.54 502.32H149.29V512.68H101.54ZM158.78 502.32H177.91V512.68H158.78ZM196.94 502.32H206.53V512.68H196.94ZM273.26 502.32H502.27V512.68H273.26ZM530.84 502.32H540.43V512.68H530.84ZM549.92 502.32H654.91V512.68H549.92ZM92.00 512.63H149.29V522.99H92.00ZM158.78 512.63H187.45V522.99H158.78ZM216.02 512.63H483.19V522.99H216.02ZM492.68 512.63H502.27V522.99H492.68ZM521.30 512.63H540.43V522.99H521.30ZM549.92 512.63H664.45V522.99H549.92ZM244.64 522.94H254.23V533.29H244.64ZM216.02 543.55H225.61V553.91H216.02ZM216.02 553.86H225.61V564.22H216.02ZM444.98 553.86H454.57V564.22H444.98ZM578.54 564.17H588.13V574.53H578.54ZM111.08 574.48H120.67V584.83H111.08ZM130.16 574.48H149.29V584.83H130.16ZM416.36 574.48H425.95V584.83H416.36ZM444.98 574.48H454.57V584.83H444.98ZM578.54 574.48H588.13V584.83H578.54ZM101.54 584.78H111.13V595.14H101.54ZM120.62 584.78H139.75V595.14H120.62ZM216.02 584.78H244.69V595.14H216.02ZM263.72 584.78H282.85V595.14H263.72ZM301.88 584.78H311.47V595.14H301.88ZM416.36 584.78H425.95V595.14H416.36ZM578.54 584.78H588.13V595.14H578.54ZM349.58 595.09H359.17V605.45H349.58ZM578.54 595.09H588.13V605.45H578.54ZM578.54 605.40H588.13V615.76H578.54Z"/>
<path fill="#5b1f79" d="M130.16 90.00H139.75V100.36H130.16ZM149.24 90.00H196.99V100.36H149.24ZM273.26 90.00H292.39V100.36H273.26ZM301.88 90.00H359.17V100.36H301.88ZM368.66 90.00H387.79V100.36H368.66ZM454.52 90.00H464.11V100.36H454.52ZM473.60 90.00H492.73V100.36H473.60ZM588.08 90.00H597.67V100.36H588.08ZM616.70 90.00H635.83V100.36H616.70ZM654.86 90.00H664.45V100.36H654.86ZM425.90 100.31H435.49V110.67H425.90ZM464.06 100.31H473.65V110.67H464.06ZM492.68 100.31H502.27V110.67H492.68ZM664.40 100.31H683.53V110.67H664.40ZM92.00 120.92H111.13V131.28H92.00ZM120.62 120.92H139.75V131.28H120.62ZM158.78 120.92H177.91V131.28H158.78ZM187.40 120.92H206.53V131.28H187.40ZM216.02 120.92H225.61V131.28H216.02ZM235.10 120.92H254.23V131.28H235.10ZM273.26 120.92H292.39V131.28H273.26ZM301.88 120.92H387.79V131.28H301.88ZM416.36 120.92H473.65V131.28H416.36ZM483.14 120.92H502.27V131.28H483.14ZM521.30 120.92H569.05V131.28H521.30ZM597.62 120.92H607.21V131.28H597.62ZM635.78 120.92H645.37V131.28H635.78ZM206.48 131.23H216.07V141.59H206.48ZM397.28 131.23H416.41V141.59H397.28ZM473.60 131.23H492.73V141.59H473.60ZM502.22 131.23H521.35V141.59H502.22ZM530.84 131.23H540.43V141.59H530.84ZM673.94 131.23H683.53V141.59H673.94ZM206.48 141.54H216.07V151.90H206.48ZM511.76 141.54H521.35V151.90H511.76ZM530.84 141.54H540.43V151.90H530.84ZM549.92 141.54H569.05V151.90H549.92ZM416.36 151.85H425.95V162.21H416.36ZM511.76 151.85H540.43V162.21H511.76ZM149.24 162.16H196.99V172.51H149.24ZM273.26 162.16H301.93V172.51H273.26ZM311.42 162.16H387.79V172.51H311.42ZM473.60 162.16H530.89V172.51H473.60ZM273.26 172.46H301.93V182.82H273.26ZM311.42 172.46H321.01V182.82H311.42ZM330.50 172.46H397.33V182.82H330.50ZM273.26 182.77H282.85V193.13H273.26ZM292.34 182.77H301.93V193.13H292.34ZM311.42 182.77H340.09V193.13H311.42ZM349.58 182.77H359.17V193.13H349.58ZM368.66 182.77H416.41V193.13H368.66ZM92.00 203.39H311.47V213.75H92.00ZM320.96 203.39H349.63V213.75H320.96ZM359.12 203.39H368.71V213.75H359.12ZM378.20 203.39H425.95V213.75H378.20ZM435.44 203.39H445.03V213.75H435.44ZM473.60 203.39H521.35V213.75H473.60ZM530.84 203.39H569.05V213.75H530.84ZM578.54 203.39H616.75V213.75H578.54ZM673.94 203.39H683.53V213.75H673.94ZM92.00 213.70H149.29V224.05H92.00ZM149.24 234.31H168.37V244.67H149.24ZM177.86 234.31H187.45V244.67H177.86ZM206.48 234.31H216.07V244.67H206.48ZM225.56 234.31H235.15V244.67H225.56ZM244.64 234.31H273.31V244.67H244.64ZM292.34 234.31H311.47V244.67H292.34ZM320.96 234.31H330.55V244.67H320.96ZM368.66 234.31H378.25V244.67H368.66ZM387.74 234.31H445.03V244.67H387.74ZM540.38 234.31H559.51V244.67H540.38ZM569.00 234.31H578.59V244.67H569.00ZM588.08 234.31H626.29V244.67H588.08ZM654.86 234.31H664.45V244.67H654.86ZM111.08 244.62H139.75V254.98H111.08ZM149.24 244.62H158.83V254.98H149.24ZM168.32 244.62H177.91V254.98H168.32ZM187.40 244.62H196.99V254.98H187.40ZM244.64 244.62H254.23V254.98H244.64ZM416.36 244.62H425.95V254.98H416.36ZM464.06 244.62H473.65V254.98H464.06ZM540.38 244.62H549.97V254.98H540.38ZM569.00 244.62H578.59V254.98H569.00ZM130.16 265.24H139.75V275.59H130.16ZM149.24 265.24H177.91V275.59H149.24ZM187.40 265.24H196.99V275.59H187.40ZM206.48 265.24H216.07V275.59H206.48ZM273.26 265.24H301.93V275.59H273.26ZM320.96 265.24H330.55V275.59H320.96ZM349.58 265.24H359.17V275.59H349.58ZM368.66 265.24H378.25V275.59H368.66ZM387.74 265.24H416.41V275.59H387.74ZM425.90 265.24H435.49V275.59H425.90ZM454.52 265.24H464.11V275.59H454.52ZM473.60 265.24H492.73V275.59H473.60ZM502.22 265.24H521.35V275.59H502.22ZM530.84 265.24H540.43V275.59H530.84ZM607.16 265.24H635.83V275.59H607.16ZM645.32 265.24H654.91V275.59H645.32ZM92.00 285.85H111.13V296.21H92.00ZM120.62 285.85H130.21V296.21H120.62ZM158.78 285.85H168.37V296.21H158.78ZM177.86 285.85H206.53V296.21H177.86ZM330.50 285.85H340.09V296.21H330.50ZM349.58 285.85H359.17V296.21H349.58ZM368.66 285.85H378.25V296.21H368.66ZM387.74 285.85H397.33V296.21H387.74ZM416.36 285.85H425.95V296.21H416.36ZM435.44 285.85H454.57V296.21H435.44ZM473.60 285.85H492.73V296.21H473.60ZM502.22 285.85H511.81V296.21H502.22ZM521.30 285.85H530.89V296.21H521.30ZM549.92 285.85H578.59V296.21H549.92ZM616.70 285.85H626.29V296.21H616.70ZM664.40 285.85H673.99V296.21H664.40ZM511.76 296.16H530.89V306.52H511.76ZM664.40 316.78H673.99V327.13H664.40ZM225.56 337.39H235.15V347.75H225.56ZM673.94 347.70H683.53V358.06H673.94ZM206.48 358.01H216.07V368.37H206.48ZM225.56 358.01H244.69V368.37H225.56ZM387.74 358.01H397.33V368.37H387.74ZM158.78 368.32H187.45V378.67H158.78ZM254.18 368.32H282.85V378.67H254.18ZM502.22 368.32H521.35V378.67H502.22ZM569.00 368.32H578.59V378.67H569.00ZM502.22 388.93H530.89V399.29H502.22ZM578.54 388.93H597.67V399.29H578.54ZM206.48 399.24H216.07V409.60H206.48ZM502.22 399.24H521.35V409.60H502.22ZM444.98 419.86H454.57V430.21H444.98ZM483.14 419.86H492.73V430.21H483.14ZM511.76 430.16H521.35V440.52H511.76ZM597.62 430.16H616.75V440.52H597.62ZM130.16 440.47H139.75V450.83H130.16ZM149.24 440.47H168.37V450.83H149.24ZM177.86 440.47H196.99V450.83H177.86ZM206.48 440.47H216.07V450.83H206.48ZM378.20 440.47H387.79V450.83H378.20ZM511.76 440.47H673.99V450.83H511.76ZM492.68 450.78H502.27V461.14H492.68ZM635.78 450.78H645.37V461.14H635.78ZM521.30 461.09H530.89V471.45H521.30ZM597.62 471.40H607.21V481.75H597.62ZM273.26 481.70H301.93V492.06H273.26ZM311.42 481.70H397.33V492.06H311.42ZM111.08 492.01H120.67V502.37H111.08ZM139.70 492.01H149.29V502.37H139.70ZM177.86 492.01H187.45V502.37H177.86ZM206.48 492.01H216.07V502.37H206.48ZM444.98 492.01H454.57V502.37H444.98ZM673.94 492.01H683.53V502.37H673.94ZM177.86 502.32H187.45V512.68H177.86ZM502.22 502.32H530.89V512.68H502.22ZM654.86 502.32H664.45V512.68H654.86ZM483.14 512.63H492.73V522.99H483.14ZM511.76 512.63H521.35V522.99H511.76ZM139.70 584.78H149.29V595.14H139.70Z"/>
<path fill="#574795" d="M206.48 90.00H216.07V100.36H206.48ZM502.22 90.00H511.81V100.36H502.22ZM521.30 90.00H530.89V100.36H521.30ZM111.08 100.31H120.67V110.67H111.08ZM139.70 100.31H158.83V110.67H139.70ZM177.86 100.31H187.45V110.67H177.86ZM206.48 100.31H216.07V110.67H206.48ZM235.10 100.31H254.23V110.67H235.10ZM320.96 100.31H330.55V110.67H320.96ZM406.82 100.31H425.95V110.67H406.82ZM435.44 100.31H464.11V110.67H435.44ZM473.60 100.31H483.19V110.67H473.60ZM502.22 100.31H588.13V110.67H502.22ZM597.62 100.31H607.21V110.67H597.62ZM635.78 100.31H645.37V110.67H635.78ZM177.86 120.92H187.45V131.28H177.86ZM254.18 120.92H273.31V131.28H254.18ZM292.34 120.92H301.93V131.28H292.34ZM397.28 120.92H416.41V131.28H397.28ZM473.60 120.92H483.19V131.28H473.60ZM502.22 120.92H521.35V131.28H502.22ZM578.54 120.92H588.13V131.28H578.54ZM607.16 120.92H635.83V131.28H607.16ZM645.32 120.92H664.45V131.28H645.32ZM673.94 182.77H683.53V193.13H673.94ZM311.42 203.39H321.01V213.75H311.42ZM349.58 203.39H359.17V213.75H349.58ZM368.66 203.39H378.25V213.75H368.66ZM521.30 203.39H530.89V213.75H521.30ZM645.32 203.39H673.99V213.75H645.32ZM149.24 213.70H177.91V224.05H149.24ZM187.40 213.70H273.31V224.05H187.40ZM416.36 213.70H425.95V224.05H416.36ZM454.52 213.70H473.65V224.05H454.52ZM521.30 213.70H530.89V224.05H521.30ZM540.38 213.70H549.97V224.05H540.38ZM569.00 213.70H578.59V224.05H569.00ZM673.94 213.70H683.53V224.05H673.94ZM168.32 234.31H177.91V244.67H168.32ZM273.26 234.31H292.39V244.67H273.26ZM311.42 234.31H321.01V244.67H311.42ZM330.50 234.31H368.71V244.67H330.50ZM378.20 234.31H387.79V244.67H378.20ZM444.98 234.31H454.57V244.67H444.98ZM473.60 234.31H540.43V244.67H473.60ZM559.46 234.31H569.05V244.67H559.46ZM635.78 234.31H654.91V244.67H635.78ZM92.00 244.62H111.13V254.98H92.00ZM139.70 244.62H149.29V254.98H139.70ZM158.78 244.62H168.37V254.98H158.78ZM177.86 244.62H187.45V254.98H177.86ZM196.94 244.62H206.53V254.98H196.94ZM216.02 244.62H244.69V254.98H216.02ZM254.18 244.62H273.31V254.98H254.18ZM301.88 244.62H311.47V254.98H301.88ZM425.90 244.62H464.11V254.98H425.90ZM549.92 244.62H569.05V254.98H549.92ZM588.08 244.62H607.21V254.98H588.08ZM635.78 244.62H645.37V254.98H635.78ZM311.42 265.24H321.01V275.59H311.42ZM330.50 265.24H349.63V275.59H330.50ZM359.12 265.24H368.71V275.59H359.12ZM378.20 265.24H387.79V275.59H378.20ZM492.68 265.24H502.27V275.59H492.68ZM521.30 265.24H530.89V275.59H521.30ZM549.92 265.24H569.05V275.59H549.92ZM588.08 265.24H597.67V275.59H588.08ZM654.86 265.24H664.45V275.59H654.86ZM273.26 285.85H301.93V296.21H273.26ZM311.42 285.85H330.55V296.21H311.42ZM340.04 285.85H349.63V296.21H340.04ZM359.12 285.85H368.71V296.21H359.12ZM378.20 285.85H387.79V296.21H378.20ZM397.28 285.85H416.41V296.21H397.28ZM425.90 285.85H435.49V296.21H425.90ZM511.76 285.85H521.35V296.21H511.76ZM530.84 285.85H540.43V296.21H530.84ZM635.78 285.85H645.37V296.21H635.78ZM654.86 285.85H664.45V296.21H654.86ZM588.08 296.16H597.67V306.52H588.08ZM521.30 327.08H530.89V337.44H521.30ZM158.78 337.39H177.91V347.75H158.78ZM569.00 337.39H578.59V347.75H569.00ZM216.02 358.01H225.61V368.37H216.02ZM206.48 368.32H216.07V378.67H206.48ZM521.30 368.32H530.89V378.67H521.30ZM588.08 368.32H597.67V378.67H588.08ZM673.94 388.93H683.53V399.29H673.94ZM263.72 419.86H273.31V430.21H263.72ZM435.44 430.16H445.03V440.52H435.44ZM540.38 450.78H549.97V461.14H540.38ZM645.32 450.78H654.91V461.14H645.32ZM435.44 461.09H445.03V471.45H435.44ZM502.22 461.09H511.81V471.45H502.22ZM654.86 461.09H664.45V471.45H654.86ZM416.36 471.40H425.95V481.75H416.36ZM92.00 492.01H111.13V502.37H92.00ZM120.62 492.01H139.75V502.37H120.62ZM158.78 492.01H177.91V502.37H158.78ZM196.94 492.01H206.53V502.37H196.94ZM244.64 492.01H273.31V502.37H244.64ZM292.34 492.01H330.55V502.37H292.34ZM406.82 492.01H416.41V502.37H406.82ZM483.14 492.01H492.73V502.37H483.14ZM549.92 492.01H569.05V502.37H549.92ZM578.54 492.01H588.13V502.37H578.54ZM597.62 492.01H626.29V502.37H597.62ZM654.86 492.01H673.99V502.37H654.86ZM92.00 502.32H101.59V512.68H92.00ZM664.40 512.63H673.99V522.99H664.40ZM111.08 522.94H120.67V533.29H111.08ZM139.70 522.94H149.29V533.29H139.70ZM349.58 522.94H359.17V533.29H349.58ZM540.38 522.94H549.97V533.29H540.38ZM635.78 522.94H645.37V533.29H635.78ZM654.86 522.94H664.45V533.29H654.86ZM111.08 533.24H120.67V543.60H111.08ZM416.36 533.24H425.95V543.60H416.36ZM464.06 533.24H473.65V543.60H464.06ZM521.30 533.24H540.43V543.60H521.30ZM464.06 584.78H473.65V595.14H464.06Z"/>
<path fill="#d5d5d5" d="M387.74 90.00H397.33V100.36H387.74ZM578.54 90.00H588.13V100.36H578.54ZM597.62 90.00H607.21V100.36H597.62ZM635.78 90.00H654.91V100.36H635.78ZM664.40 90.00H683.53V100.36H664.40ZM521.30 131.23H530.89V141.59H521.30ZM569.00 131.23H578.59V141.59H569.00ZM588.08 131.23H597.67V141.59H588.08ZM635.78 131.23H645.37V141.59H635.78ZM502.22 141.54H511.81V151.90H502.22ZM521.30 141.54H530.89V151.90H521.30ZM673.94 141.54H683.53V151.90H673.94ZM92.00 151.85H139.75V162.21H92.00ZM149.24 151.85H263.77V162.21H149.24ZM340.04 151.85H349.63V162.21H340.04ZM378.20 151.85H387.79V162.21H378.20ZM444.98 151.85H473.65V162.21H444.98ZM502.22 151.85H511.81V162.21H502.22ZM569.00 151.85H597.67V162.21H569.00ZM616.70 151.85H626.29V162.21H616.70ZM664.40 151.85H683.53V162.21H664.40ZM206.48 162.16H216.07V172.51H206.48ZM549.92 162.16H578.59V172.51H549.92ZM635.78 162.16H645.37V172.51H635.78ZM664.40 162.16H683.53V172.51H664.40ZM92.00 172.46H273.31V182.82H92.00ZM397.28 172.46H416.41V182.82H397.28ZM425.90 172.46H683.53V182.82H425.90ZM92.00 182.77H273.31V193.13H92.00ZM444.98 182.77H521.35V193.13H444.98ZM530.84 182.77H597.67V193.13H530.84ZM635.78 182.77H664.45V193.13H635.78ZM92.00 193.08H130.21V203.44H92.00ZM139.70 193.08H244.69V203.44H139.70ZM254.18 193.08H263.77V203.44H254.18ZM273.26 193.08H349.63V203.44H273.26ZM359.12 193.08H406.87V203.44H359.12ZM425.90 193.08H445.03V203.44H425.90ZM454.52 193.08H540.43V203.44H454.52ZM549.92 193.08H645.37V203.44H549.92ZM654.86 193.08H683.53V203.44H654.86ZM92.00 224.00H273.31V234.36H92.00ZM387.74 224.00H397.33V234.36H387.74ZM406.82 224.00H416.41V234.36H406.82ZM502.22 224.00H511.81V234.36H502.22ZM569.00 224.00H578.59V234.36H569.00ZM635.78 224.00H654.91V234.36H635.78ZM664.40 224.00H683.53V234.36H664.40ZM673.94 244.62H683.53V254.98H673.94ZM673.94 265.24H683.53V275.59H673.94ZM111.08 275.54H120.67V285.90H111.08ZM130.16 275.54H139.75V285.90H130.16ZM168.32 275.54H340.09V285.90H168.32ZM349.58 275.54H683.53V285.90H349.58ZM578.54 285.85H588.13V296.21H578.54ZM673.94 285.85H683.53V296.21H673.94ZM120.62 296.16H130.21V306.52H120.62ZM206.48 296.16H216.07V306.52H206.48ZM254.18 296.16H263.77V306.52H254.18ZM378.20 296.16H511.81V306.52H378.20ZM540.38 296.16H588.13V306.52H540.38ZM626.24 296.16H635.83V306.52H626.24ZM673.94 296.16H683.53V306.52H673.94ZM92.00 306.47H111.13V316.83H92.00ZM120.62 306.47H301.93V316.83H120.62ZM320.96 306.47H397.33V316.83H320.96ZM416.36 306.47H502.27V316.83H416.36ZM511.76 306.47H616.75V316.83H511.76ZM635.78 306.47H683.53V316.83H635.78ZM301.88 316.78H311.47V327.13H301.88ZM349.58 316.78H359.17V327.13H349.58ZM502.22 316.78H511.81V327.13H502.22ZM569.00 316.78H578.59V327.13H569.00ZM673.94 316.78H683.53V327.13H673.94ZM149.24 327.08H177.91V337.44H149.24ZM292.34 327.08H301.93V337.44H292.34ZM444.98 327.08H454.57V337.44H444.98ZM502.22 327.08H511.81V337.44H502.22ZM635.78 327.08H645.37V337.44H635.78ZM673.94 327.08H683.53V337.44H673.94ZM149.24 337.39H158.83V347.75H149.24ZM177.86 337.39H187.45V347.75H177.86ZM196.94 337.39H216.07V347.75H196.94ZM235.10 337.39H244.69V347.75H235.10ZM254.18 337.39H263.77V347.75H254.18ZM273.26 337.39H301.93V347.75H273.26ZM311.42 337.39H349.63V347.75H311.42ZM359.12 337.39H416.41V347.75H359.12ZM425.90 337.39H445.03V347.75H425.90ZM454.52 337.39H569.05V347.75H454.52ZM578.54 337.39H683.53V347.75H578.54ZM502.22 347.70H511.81V358.06H502.22ZM120.62 358.01H139.75V368.37H120.62ZM187.40 358.01H196.99V368.37H187.40ZM244.64 358.01H254.23V368.37H244.64ZM416.36 358.01H435.49V368.37H416.36ZM444.98 358.01H473.65V368.37H444.98ZM502.22 358.01H540.43V368.37H502.22ZM549.92 358.01H578.59V368.37H549.92ZM588.08 358.01H626.29V368.37H588.08ZM635.78 358.01H664.45V368.37H635.78ZM673.94 358.01H683.53V368.37H673.94ZM92.00 378.62H216.07V388.98H92.00ZM235.10 378.62H683.53V388.98H235.10ZM92.00 388.93H273.31V399.29H92.00ZM292.34 388.93H301.93V399.29H292.34ZM483.14 388.93H492.73V399.29H483.14ZM168.32 399.24H177.91V409.60H168.32ZM263.72 399.24H273.31V409.60H263.72ZM301.88 399.24H311.47V409.60H301.88ZM444.98 399.24H483.19V409.60H444.98ZM521.30 399.24H597.67V409.60H521.30ZM626.24 399.24H683.53V409.60H626.24ZM92.00 409.55H273.31V419.91H92.00ZM292.34 409.55H301.93V419.91H292.34ZM311.42 409.55H349.63V419.91H311.42ZM359.12 409.55H416.41V419.91H359.12ZM425.90 409.55H435.49V419.91H425.90ZM473.60 409.55H483.19V419.91H473.60ZM492.68 409.55H521.35V419.91H492.68ZM530.84 409.55H683.53V419.91H530.84ZM92.00 419.86H149.29V430.21H92.00ZM158.78 419.86H168.37V430.21H158.78ZM177.86 419.86H216.07V430.21H177.86ZM235.10 419.86H263.77V430.21H235.10ZM273.26 419.86H282.85V430.21H273.26ZM292.34 419.86H349.63V430.21H292.34ZM359.12 419.86H416.41V430.21H359.12ZM473.60 419.86H483.19V430.21H473.60ZM492.68 419.86H664.45V430.21H492.68ZM673.94 419.86H683.53V430.21H673.94ZM139.70 430.16H149.29V440.52H139.70ZM177.86 430.16H225.61V440.52H177.86ZM254.18 430.16H273.31V440.52H254.18ZM292.34 430.16H301.93V440.52H292.34ZM311.42 430.16H349.63V440.52H311.42ZM359.12 430.16H416.41V440.52H359.12ZM425.90 430.16H435.49V440.52H425.90ZM444.98 430.16H454.57V440.52H444.98ZM473.60 430.16H492.73V440.52H473.60ZM502.22 430.16H511.81V440.52H502.22ZM521.30 430.16H530.89V440.52H521.30ZM569.00 430.16H588.13V440.52H569.00ZM635.78 430.16H645.37V440.52H635.78ZM673.94 430.16H683.53V440.52H673.94ZM244.64 440.47H254.23V450.83H244.64ZM673.94 440.47H683.53V450.83H673.94ZM92.00 450.78H225.61V461.14H92.00ZM235.10 450.78H435.49V461.14H235.10ZM444.98 450.78H492.73V461.14H444.98ZM502.22 450.78H530.89V461.14H502.22ZM559.46 450.78H578.59V461.14H559.46ZM588.08 450.78H597.67V461.14H588.08ZM607.16 450.78H626.29V461.14H607.16ZM654.86 450.78H683.53V461.14H654.86ZM673.94 461.09H683.53V471.45H673.94ZM168.32 471.40H187.45V481.75H168.32ZM196.94 471.40H216.07V481.75H196.94ZM330.50 471.40H349.63V481.75H330.50ZM378.20 471.40H397.33V481.75H378.20ZM425.90 471.40H445.03V481.75H425.90ZM464.06 471.40H483.19V481.75H464.06ZM502.22 471.40H540.43V481.75H502.22ZM616.70 471.40H635.83V481.75H616.70ZM673.94 471.40H683.53V481.75H673.94ZM149.24 481.70H273.31V492.06H149.24ZM502.22 481.70H511.81V492.06H502.22ZM521.30 481.70H530.89V492.06H521.30ZM540.38 481.70H683.53V492.06H540.38ZM626.24 492.01H635.83V502.37H626.24ZM187.40 502.32H196.99V512.68H187.40ZM206.48 502.32H273.31V512.68H206.48ZM540.38 502.32H549.97V512.68H540.38ZM664.40 502.32H683.53V512.68H664.40ZM187.40 512.63H216.07V522.99H187.40ZM502.22 512.63H511.81V522.99H502.22ZM540.38 512.63H549.97V522.99H540.38ZM673.94 512.63H683.53V522.99H673.94ZM206.48 522.94H216.07V533.29H206.48ZM263.72 522.94H273.31V533.29H263.72ZM92.00 543.55H216.07V553.91H92.00ZM225.56 543.55H683.53V553.91H225.56ZM92.00 553.86H216.07V564.22H92.00ZM225.56 553.86H445.03V564.22H225.56ZM454.52 553.86H683.53V564.22H454.52ZM92.00 564.17H578.59V574.53H92.00ZM588.08 564.17H683.53V574.53H588.08ZM92.00 574.48H111.13V584.83H92.00ZM120.62 574.48H130.21V584.83H120.62ZM149.24 574.48H416.41V584.83H149.24ZM425.90 574.48H445.03V584.83H425.90ZM454.52 574.48H578.59V584.83H454.52ZM588.08 574.48H683.53V584.83H588.08ZM92.00 584.78H101.59V595.14H92.00ZM111.08 584.78H120.67V595.14H111.08ZM149.24 584.78H216.07V595.14H149.24ZM244.64 584.78H263.77V595.14H244.64ZM282.80 584.78H301.93V595.14H282.80ZM311.42 584.78H416.41V595.14H311.42ZM425.90 584.78H464.11V595.14H425.90ZM473.60 584.78H578.59V595.14H473.60ZM588.08 584.78H683.53V595.14H588.08ZM92.00 595.09H349.63V605.45H92.00ZM359.12 595.09H578.59V605.45H359.12ZM588.08 595.09H683.53V605.45H588.08ZM92.00 605.40H578.59V615.76H92.00ZM588.08 605.40H683.53V615.76H588.08Z"/>
<path fill="#4b5f9e" d="M92.00 100.31H111.13V110.67H92.00ZM120.62 100.31H130.21V110.67H120.62ZM158.78 100.31H177.91V110.67H158.78ZM187.40 100.31H206.53V110.67H187.40ZM225.56 100.31H235.15V110.67H225.56ZM263.72 100.31H273.31V110.67H263.72ZM292.34 100.31H321.01V110.67H292.34ZM330.50 100.31H349.63V110.67H330.50ZM359.12 100.31H387.79V110.67H359.12ZM588.08 100.31H597.67V110.67H588.08ZM626.24 100.31H635.83V110.67H626.24ZM645.32 100.31H654.91V110.67H645.32ZM206.48 120.92H216.07V131.28H206.48ZM387.74 120.92H397.33V131.28H387.74ZM588.08 120.92H597.67V131.28H588.08ZM664.40 120.92H673.99V131.28H664.40ZM177.86 213.70H187.45V224.05H177.86ZM301.88 213.70H311.47V224.05H301.88ZM349.58 213.70H359.17V224.05H349.58ZM406.82 213.70H416.41V224.05H406.82ZM425.90 213.70H454.57V224.05H425.90ZM483.14 213.70H492.73V224.05H483.14ZM502.22 213.70H511.81V224.05H502.22ZM549.92 213.70H569.05V224.05H549.92ZM578.54 213.70H588.13V224.05H578.54ZM607.16 213.70H616.75V224.05H607.16ZM626.24 213.70H645.37V224.05H626.24ZM654.86 213.70H673.99V224.05H654.86ZM464.06 234.31H473.65V244.67H464.06ZM673.94 234.31H683.53V244.67H673.94ZM206.48 244.62H216.07V254.98H206.48ZM320.96 244.62H330.55V254.98H320.96ZM349.58 244.62H359.17V254.98H349.58ZM473.60 244.62H511.81V254.98H473.60ZM521.30 244.62H540.43V254.98H521.30ZM578.54 244.62H588.13V254.98H578.54ZM607.16 244.62H626.29V254.98H607.16ZM654.86 244.62H664.45V254.98H654.86ZM673.94 368.32H683.53V378.67H673.94ZM416.36 419.86H435.49V430.21H416.36ZM502.22 440.47H511.81V450.83H502.22ZM206.48 461.09H216.07V471.45H206.48ZM416.36 461.09H425.95V471.45H416.36ZM511.76 461.09H521.35V471.45H511.76ZM569.00 461.09H578.59V471.45H569.00ZM187.40 492.01H196.99V502.37H187.40ZM225.56 492.01H244.69V502.37H225.56ZM273.26 492.01H292.39V502.37H273.26ZM330.50 492.01H406.87V502.37H330.50ZM464.06 492.01H473.65V502.37H464.06ZM530.84 492.01H549.97V502.37H530.84ZM588.08 492.01H597.67V502.37H588.08ZM635.78 492.01H654.91V502.37H635.78ZM130.16 522.94H139.75V533.29H130.16ZM177.86 522.94H187.45V533.29H177.86ZM196.94 522.94H206.53V533.29H196.94ZM273.26 522.94H292.39V533.29H273.26ZM444.98 522.94H454.57V533.29H444.98ZM597.62 522.94H607.21V533.29H597.62ZM626.24 522.94H635.83V533.29H626.24ZM645.32 522.94H654.91V533.29H645.32ZM92.00 533.24H101.59V543.60H92.00ZM139.70 533.24H149.29V543.60H139.70ZM158.78 533.24H168.37V543.60H158.78ZM273.26 533.24H292.39V543.60H273.26ZM301.88 533.24H311.47V543.60H301.88ZM320.96 533.24H340.09V543.60H320.96ZM349.58 533.24H368.71V543.60H349.58ZM378.20 533.24H387.79V543.60H378.20ZM406.82 533.24H416.41V543.60H406.82ZM425.90 533.24H464.11V543.60H425.90ZM492.68 533.24H502.27V543.60H492.68ZM540.38 533.24H569.05V543.60H540.38ZM578.54 533.24H588.13V543.60H578.54Z"/>
<path fill="#3e76a4" d="M130.16 100.31H139.75V110.67H130.16ZM216.02 100.31H225.61V110.67H216.02ZM254.18 100.31H263.77V110.67H254.18ZM273.26 100.31H292.39V110.67H273.26ZM349.58 100.31H359.17V110.67H349.58ZM387.74 100.31H406.87V110.67H387.74ZM483.14 100.31H492.73V110.67H483.14ZM607.16 100.31H626.29V110.67H607.16ZM654.86 100.31H664.45V110.67H654.86ZM673.94 120.92H683.53V131.28H673.94ZM273.26 213.70H301.93V224.05H273.26ZM311.42 213.70H330.55V224.05H311.42ZM368.66 213.70H378.25V224.05H368.66ZM387.74 213.70H406.87V224.05H387.74ZM473.60 213.70H483.19V224.05H473.60ZM492.68 213.70H502.27V224.05H492.68ZM511.76 213.70H521.35V224.05H511.76ZM530.84 213.70H540.43V224.05H530.84ZM588.08 213.70H607.21V224.05H588.08ZM616.70 213.70H626.29V224.05H616.70ZM454.52 234.31H464.11V244.67H454.52ZM273.26 244.62H301.93V254.98H273.26ZM311.42 244.62H321.01V254.98H311.42ZM340.04 244.62H349.63V254.98H340.04ZM359.12 244.62H416.41V254.98H359.12ZM511.76 244.62H521.35V254.98H511.76ZM626.24 244.62H635.83V254.98H626.24ZM645.32 244.62H654.91V254.98H645.32ZM664.40 244.62H673.99V254.98H664.40ZM111.08 254.93H120.67V265.29H111.08ZM263.72 461.09H273.31V471.45H263.72ZM301.88 461.09H311.47V471.45H301.88ZM387.74 461.09H397.33V471.45H387.74ZM530.84 461.09H540.43V471.45H530.84ZM549.92 461.09H569.05V471.45H549.92ZM597.62 461.09H616.75V471.45H597.62ZM626.24 461.09H635.83V471.45H626.24ZM216.02 492.01H225.61V502.37H216.02ZM454.52 492.01H464.11V502.37H454.52ZM492.68 492.01H530.89V502.37H492.68ZM569.00 492.01H578.59V502.37H569.00ZM149.24 502.32H158.83V512.68H149.24ZM149.24 512.63H158.83V522.99H149.24ZM225.56 522.94H244.69V533.29H225.56ZM301.88 522.94H311.47V533.29H301.88ZM320.96 522.94H330.55V533.29H320.96ZM368.66 522.94H378.25V533.29H368.66ZM530.84 522.94H540.43V533.29H530.84ZM549.92 522.94H569.05V533.29H549.92ZM607.16 522.94H626.29V533.29H607.16ZM101.54 533.24H111.13V543.60H101.54ZM168.32 533.24H177.91V543.60H168.32ZM196.94 533.24H206.53V543.60H196.94ZM225.56 533.24H235.15V543.60H225.56ZM244.64 533.24H254.23V543.60H244.64ZM263.72 533.24H273.31V543.60H263.72ZM292.34 533.24H301.93V543.60H292.34ZM311.42 533.24H321.01V543.60H311.42ZM368.66 533.24H378.25V543.60H368.66ZM387.74 533.24H397.33V543.60H387.74ZM473.60 533.24H483.19V543.60H473.60ZM645.32 533.24H683.53V543.60H645.32Z"/>
<path fill="#fffb70" d="M92.00 110.62H101.59V120.97H92.00ZM120.62 110.62H139.75V120.97H120.62ZM158.78 110.62H177.91V120.97H158.78ZM187.40 110.62H292.39V120.97H187.40ZM301.88 110.62H311.47V120.97H301.88ZM320.96 110.62H330.55V120.97H320.96ZM349.58 110.62H359.17V120.97H349.58ZM387.74 110.62H425.95V120.97H387.74ZM444.98 110.62H454.57V120.97H444.98ZM473.60 110.62H683.53V120.97H473.60ZM206.48 254.93H216.07V265.29H206.48ZM263.72 254.93H273.31V265.29H263.72ZM292.34 254.93H311.47V265.29H292.34ZM368.66 254.93H378.25V265.29H368.66ZM435.44 254.93H445.03V265.29H435.44ZM454.52 254.93H473.65V265.29H454.52ZM664.40 254.93H683.53V265.29H664.40ZM92.00 461.09H149.29V471.45H92.00ZM158.78 461.09H168.37V471.45H158.78ZM177.86 461.09H187.45V471.45H177.86ZM196.94 461.09H206.53V471.45H196.94ZM254.18 461.09H263.77V471.45H254.18ZM425.90 461.09H435.49V471.45H425.90ZM444.98 461.09H464.11V471.45H444.98ZM416.36 492.01H445.03V502.37H416.36ZM435.44 522.94H445.03V533.29H435.44ZM464.06 522.94H473.65V533.29H464.06Z"/>
<path fill="#e4e31e" d="M101.54 110.62H111.13V120.97H101.54ZM311.42 110.62H321.01V120.97H311.42ZM340.04 110.62H349.63V120.97H340.04ZM359.12 110.62H368.71V120.97H359.12ZM454.52 110.62H464.11V120.97H454.52ZM406.82 254.93H416.41V265.29H406.82ZM483.14 254.93H492.73V265.29H483.14ZM521.30 254.93H530.89V265.29H521.30ZM549.92 254.93H559.51V265.29H549.92ZM168.32 461.09H177.91V471.45H168.32ZM235.10 461.09H244.69V471.45H235.10ZM92.00 522.94H101.59V533.29H92.00Z"/>
<path fill="#8fd75a" d="M111.08 110.62H120.67V120.97H111.08ZM139.70 110.62H158.83V120.97H139.70ZM330.50 110.62H340.09V120.97H330.50ZM368.66 110.62H387.79V120.97H368.66ZM168.32 254.93H177.91V265.29H168.32ZM235.10 254.93H244.69V265.29H235.10ZM311.42 254.93H321.01V265.29H311.42ZM330.50 254.93H340.09V265.29H330.50ZM359.12 254.93H368.71V265.29H359.12ZM511.76 254.93H521.35V265.29H511.76ZM607.16 254.93H635.83V265.29H607.16ZM187.40 461.09H196.99V471.45H187.40ZM244.64 461.09H254.23V471.45H244.64Z"/>
<path fill="#22aa98" d="M177.86 110.62H187.45V120.97H177.86ZM425.90 110.62H445.03V120.97H425.90ZM120.62 254.93H130.21V265.29H120.62ZM139.70 254.93H149.29V265.29H139.70ZM196.94 254.93H206.53V265.29H196.94ZM216.02 254.93H225.61V265.29H216.02ZM244.64 254.93H254.23V265.29H244.64ZM349.58 254.93H359.17V265.29H349.58ZM569.00 254.93H578.59V265.29H569.00ZM654.86 254.93H664.45V265.29H654.86ZM273.26 461.09H292.39V471.45H273.26ZM311.42 461.09H330.55V471.45H311.42ZM588.08 461.09H597.67V471.45H588.08ZM149.24 492.01H158.83V502.37H149.24ZM473.60 492.01H483.19V502.37H473.60ZM416.36 522.94H435.49V533.29H416.36ZM473.60 522.94H483.19V533.29H473.60ZM569.00 522.94H578.59V533.29H569.00ZM149.24 533.24H158.83V543.60H149.24ZM187.40 533.24H196.99V543.60H187.40ZM206.48 533.24H225.61V543.60H206.48ZM254.18 533.24H263.77V543.60H254.18ZM502.22 533.24H511.81V543.60H502.22ZM588.08 533.24H597.67V543.60H588.08ZM616.70 533.24H626.29V543.60H616.70Z"/>
<path fill="#44c185" d="M292.34 110.62H301.93V120.97H292.34ZM464.06 110.62H473.65V120.97H464.06ZM130.16 254.93H139.75V265.29H130.16ZM158.78 254.93H168.37V265.29H158.78ZM177.86 254.93H196.99V265.29H177.86ZM225.56 254.93H235.15V265.29H225.56ZM273.26 254.93H292.39V265.29H273.26ZM397.28 254.93H406.87V265.29H397.28ZM425.90 254.93H435.49V265.29H425.90ZM492.68 254.93H511.81V265.29H492.68ZM530.84 254.93H540.43V265.29H530.84ZM559.46 254.93H569.05V265.29H559.46ZM588.08 254.93H607.21V265.29H588.08ZM635.78 254.93H645.37V265.29H635.78ZM149.24 461.09H158.83V471.45H149.24ZM216.02 461.09H235.15V471.45H216.02ZM330.50 461.09H340.09V471.45H330.50ZM464.06 461.09H473.65V471.45H464.06ZM540.38 461.09H549.97V471.45H540.38ZM149.24 522.94H158.83V533.29H149.24ZM387.74 522.94H397.33V533.29H387.74ZM673.94 522.94H683.53V533.29H673.94Z"/>
<path fill="#2c93a5" d="M330.50 213.70H349.63V224.05H330.50ZM359.12 213.70H368.71V224.05H359.12ZM378.20 213.70H387.79V224.05H378.20ZM645.32 213.70H654.91V224.05H645.32ZM330.50 244.62H340.09V254.98H330.50ZM92.00 254.93H111.13V265.29H92.00ZM149.24 254.93H158.83V265.29H149.24ZM254.18 254.93H263.77V265.29H254.18ZM540.38 254.93H549.97V265.29H540.38ZM502.22 306.47H511.81V316.83H502.22ZM292.34 461.09H301.93V471.45H292.34ZM340.04 461.09H387.79V471.45H340.04ZM397.28 461.09H416.41V471.45H397.28ZM473.60 461.09H502.27V471.45H473.60ZM578.54 461.09H588.13V471.45H578.54ZM616.70 461.09H626.29V471.45H616.70ZM635.78 461.09H654.91V471.45H635.78ZM101.54 522.94H111.13V533.29H101.54ZM120.62 522.94H130.21V533.29H120.62ZM158.78 522.94H177.91V533.29H158.78ZM187.40 522.94H196.99V533.29H187.40ZM216.02 522.94H225.61V533.29H216.02ZM254.18 522.94H263.77V533.29H254.18ZM292.34 522.94H301.93V533.29H292.34ZM311.42 522.94H321.01V533.29H311.42ZM330.50 522.94H349.63V533.29H330.50ZM359.12 522.94H368.71V533.29H359.12ZM378.20 522.94H387.79V533.29H378.20ZM397.28 522.94H416.41V533.29H397.28ZM454.52 522.94H464.11V533.29H454.52ZM483.14 522.94H530.89V533.29H483.14ZM578.54 522.94H597.67V533.29H578.54ZM664.40 522.94H673.99V533.29H664.40ZM120.62 533.24H139.75V543.60H120.62ZM177.86 533.24H187.45V543.60H177.86ZM235.10 533.24H244.69V543.60H235.10ZM340.04 533.24H349.63V543.60H340.04ZM397.28 533.24H406.87V543.60H397.28ZM483.14 533.24H492.73V543.60H483.14ZM511.76 533.24H521.35V543.60H511.76ZM569.00 533.24H578.59V543.60H569.00ZM597.62 533.24H616.75V543.60H597.62ZM626.24 533.24H645.37V543.60H626.24Z"/>
<path fill="#c6e035" d="M320.96 254.93H330.55V265.29H320.96ZM340.04 254.93H349.63V265.29H340.04ZM378.20 254.93H397.33V265.29H378.20ZM416.36 254.93H425.95V265.29H416.36ZM444.98 254.93H454.57V265.29H444.98ZM473.60 254.93H483.19V265.29H473.60Z"/>
<path d="M101.54 90.0V615.71 M111.08 90.0V615.71 M120.62 90.0V615.71 M130.16 90.0V615.71 M139.70 90.0V615.71 M149.24 90.0V615.71 M158.78 90.0V615.71 M168.32 90.0V615.71 M177.86 90.0V615.71 M187.40 90.0V615.71 M196.94 90.0V615.71 M206.48 90.0V615.71 M216.02 90.0V615.71 M225.56 90.0V615.71 M235.10 90.0V615.71 M244.64 90.0V615.71 M254.18 90.0V615.71 M263.72 90.0V615.71 M273.26 90.0V615.71 M282.80 90.0V615.71 M292.34 90.0V615.71 M301.88 90.0V615.71 M311.42 90.0V615.71 M320.96 90.0V615.71 M330.50 90.0V615.71 M340.04 90.0V615.71 M349.58 90.0V615.71 M359.12 90.0V615.71 M368.66 90.0V615.71 M378.20 90.0V615.71 M387.74 90.0V615.71 M397.28 90.0V615.71 M406.82 90.0V615.71 M416.36 90.0V615.71 M425.90 90.0V615.71 M435.44 90.0V615.71 M444.98 90.0V615.71 M454.52 90.0V615.71 M464.06 90.0V615.71 M473.60 90.0V615.71 M483.14 90.0V615.71 M492.68 90.0V615.71 M502.22 90.0V615.71 M511.76 90.0V615.71 M521.30 90.0V615.71 M530.84 90.0V615.71 M540.38 90.0V615.71 M549.92 90.0V615.71 M559.46 90.0V615.71 M569.00 90.0V615.71 M578.54 90.0V615.71 M588.08 90.0V615.71 M597.62 90.0V615.71 M607.16 90.0V615.71 M616.70 90.0V615.71 M626.24 90.0V615.71 M635.78 90.0V615.71 M645.32 90.0V615.71 M654.86 90.0V615.71 M664.40 90.0V615.71 M673.94 90.0V615.71 M92.0 100.31H683.48 M92.0 110.62H683.48 M92.0 120.92H683.48 M92.0 131.23H683.48 M92.0 141.54H683.48 M92.0 151.85H683.48 M92.0 162.16H683.48 M92.0 172.46H683.48 M92.0 182.77H683.48 M92.0 193.08H683.48 M92.0 203.39H683.48 M92.0 213.70H683.48 M92.0 224.00H683.48 M92.0 234.31H683.48 M92.0 244.62H683.48 M92.0 254.93H683.48 M92.0 265.24H683.48 M92.0 275.54H683.48 M92.0 285.85H683.48 M92.0 296.16H683.48 M92.0 306.47H683.48 M92.0 316.78H683.48 M92.0 327.08H683.48 M92.0 337.39H683.48 M92.0 347.70H683.48 M92.0 358.01H683.48 M92.0 368.32H683.48 M92.0 378.62H683.48 M92.0 388.93H683.48 M92.0 399.24H683.48 M92.0 409.55H683.48 M92.0 419.86H683.48 M92.0 430.16H683.48 M92.0 440.47H683.48 M92.0 450.78H683.48 M92.0 461.09H683.48 M92.0 471.40H683.48 M92.0 481.70H683.48 M92.0 492.01H683.48 M92.0 502.32H683.48 M92.0 512.63H683.48 M92.0 522.94H683.48 M92.0 533.24H683.48 M92.0 543.55H683.48 M92.0 553.86H683.48 M92.0 564.17H683.48 M92.0 574.48H683.48 M92.0 584.78H683.48 M92.0 595.09H683.48 M92.0 605.40H683.48" stroke="#fff" stroke-opacity="0.14" stroke-width="0.9"/>
<rect x="91.6" y="89.6" width="592.28" height="526.51" fill="none" stroke="#111" stroke-width="1"/>
<text x="82.3" y="96.90" font-size="6.6" text-anchor="end" fill="#111" stroke="#111" stroke-width="0.08">APSES</text>
<text x="82.3" y="107.23" font-size="6.6" text-anchor="end" fill="#111" stroke="#111" stroke-width="0.08">bZIP</text>
<text x="82.3" y="117.57" font-size="6.6" text-anchor="end" fill="#111" stroke="#111" stroke-width="0.08">C2H2/CCHC/CCCH/C5HC2</text>
<text x="82.3" y="127.90" font-size="6.6" text-anchor="end" fill="#111" stroke="#111" stroke-width="0.08">CBF/NF-Y/archaeal histone</text>
<text x="82.3" y="138.24" font-size="6.6" text-anchor="end" fill="#111" stroke="#111" stroke-width="0.08">CCAAT-BindingTF</text>
<text x="82.3" y="148.57" font-size="6.6" text-anchor="end" fill="#111" stroke="#111" stroke-width="0.08">CCR4</text>
<text x="82.3" y="158.90" font-size="6.6" text-anchor="end" fill="#111" stroke="#111" stroke-width="0.08">Cold-shock DBD</text>
<text x="82.3" y="169.24" font-size="6.6" text-anchor="end" fill="#111" stroke="#111" stroke-width="0.08">Copper fist</text>
<text x="82.3" y="179.57" font-size="6.6" text-anchor="end" fill="#111" stroke="#111" stroke-width="0.08">WRKY</text>
<text x="82.3" y="189.91" font-size="6.6" text-anchor="end" fill="#111" stroke="#111" stroke-width="0.08">E2F</text>
<text x="82.3" y="200.24" font-size="6.6" text-anchor="end" fill="#111" stroke="#111" stroke-width="0.08">Ets</text>
<text x="82.3" y="210.57" font-size="6.6" text-anchor="end" fill="#111" stroke="#111" stroke-width="0.08">Fork head TF</text>
<text x="82.3" y="220.91" font-size="6.6" text-anchor="end" fill="#111" stroke="#111" stroke-width="0.08">GATA Zn finger</text>
<text x="82.3" y="231.24" font-size="6.6" text-anchor="end" fill="#111" stroke="#111" stroke-width="0.08">GCN5L1</text>
<text x="82.3" y="241.58" font-size="6.6" text-anchor="end" fill="#111" stroke="#111" stroke-width="0.08">Heat shock factor</text>
<text x="82.3" y="251.91" font-size="6.6" text-anchor="end" fill="#111" stroke="#111" stroke-width="0.08">HLH, helix-loop-helix</text>
<text x="82.3" y="262.24" font-size="6.6" text-anchor="end" fill="#111" stroke="#111" stroke-width="0.08">HTH/Homeodomain-like</text>
<text x="82.3" y="272.58" font-size="6.6" text-anchor="end" fill="#111" stroke="#111" stroke-width="0.08">MADS-box/SRF</text>
<text x="82.3" y="282.91" font-size="6.6" text-anchor="end" fill="#111" stroke="#111" stroke-width="0.08">MAT alpha 1</text>
<text x="82.3" y="293.25" font-size="6.6" text-anchor="end" fill="#111" stroke="#111" stroke-width="0.08">p53</text>
<text x="82.3" y="303.58" font-size="6.6" text-anchor="end" fill="#111" stroke="#111" stroke-width="0.08">RFX_DNA_binding</text>
<text x="82.3" y="313.91" font-size="6.6" text-anchor="end" fill="#111" stroke="#111" stroke-width="0.08">SAND-like</text>
<text x="82.3" y="324.25" font-size="6.6" text-anchor="end" fill="#111" stroke="#111" stroke-width="0.08">SART-1</text>
<text x="82.3" y="334.58" font-size="6.6" text-anchor="end" fill="#111" stroke="#111" stroke-width="0.08">SGT1</text>
<text x="82.3" y="344.92" font-size="6.6" text-anchor="end" fill="#111" stroke="#111" stroke-width="0.08">STAT</text>
<text x="82.3" y="355.25" font-size="6.6" text-anchor="end" fill="#111" stroke="#111" stroke-width="0.08">TATA box</text>
<text x="82.3" y="365.58" font-size="6.6" text-anchor="end" fill="#111" stroke="#111" stroke-width="0.08">TEA/ATTS</text>
<text x="82.3" y="375.92" font-size="6.6" text-anchor="end" fill="#111" stroke="#111" stroke-width="0.08">TFIID</text>
<text x="82.3" y="386.25" font-size="6.6" text-anchor="end" fill="#111" stroke="#111" stroke-width="0.08">Trp repressor/replication</text>
<text x="82.3" y="396.59" font-size="6.6" text-anchor="end" fill="#111" stroke="#111" stroke-width="0.08">Tubby TF</text>
<text x="82.3" y="406.92" font-size="6.6" text-anchor="end" fill="#111" stroke="#111" stroke-width="0.08">YL1</text>
<text x="82.3" y="417.25" font-size="6.6" text-anchor="end" fill="#111" stroke="#111" stroke-width="0.08">zf-A20</text>
<text x="82.3" y="427.59" font-size="6.6" text-anchor="end" fill="#111" stroke="#111" stroke-width="0.08">zf-BED</text>
<text x="82.3" y="437.92" font-size="6.6" text-anchor="end" fill="#111" stroke="#111" stroke-width="0.08">zf-GRF</text>
<text x="82.3" y="448.26" font-size="6.6" text-anchor="end" fill="#111" stroke="#111" stroke-width="0.08">zf-MIZ</text>
<text x="82.3" y="458.59" font-size="6.6" text-anchor="end" fill="#111" stroke="#111" stroke-width="0.08">zf-TAZ</text>
<text x="82.3" y="468.92" font-size="6.6" text-anchor="end" fill="#111" stroke="#111" stroke-width="0.08">Zn cluster</text>
<text x="82.3" y="479.26" font-size="6.6" text-anchor="end" fill="#111" stroke="#111" stroke-width="0.08">Zn-finger, NF-X1 type</text>
<text x="82.3" y="489.59" font-size="6.6" text-anchor="end" fill="#111" stroke="#111" stroke-width="0.08">CP2</text>
<text x="82.3" y="499.93" font-size="6.6" text-anchor="end" fill="#111" stroke="#111" stroke-width="0.08">HMG-Box</text>
<text x="82.3" y="510.26" font-size="6.6" text-anchor="end" fill="#111" stroke="#111" stroke-width="0.08">NDT80/PhoG</text>
<text x="82.3" y="520.59" font-size="6.6" text-anchor="end" fill="#111" stroke="#111" stroke-width="0.08">STE-like</text>
<text x="82.3" y="530.93" font-size="6.6" text-anchor="end" fill="#111" stroke="#111" stroke-width="0.08">Myb</text>
<text x="82.3" y="541.26" font-size="6.6" text-anchor="end" fill="#111" stroke="#111" stroke-width="0.08">Zn finger, PHD-type</text>
<text x="82.3" y="551.60" font-size="6.6" text-anchor="end" fill="#111" stroke="#111" stroke-width="0.08">ArsR</text>
<text x="82.3" y="561.93" font-size="6.6" text-anchor="end" fill="#111" stroke="#111" stroke-width="0.08">Crp</text>
<text x="82.3" y="572.26" font-size="6.6" text-anchor="end" fill="#111" stroke="#111" stroke-width="0.08">DeoR</text>
<text x="82.3" y="582.60" font-size="6.6" text-anchor="end" fill="#111" stroke="#111" stroke-width="0.08">LacI</text>
<text x="82.3" y="592.93" font-size="6.6" text-anchor="end" fill="#111" stroke="#111" stroke-width="0.08">LuxR</text>
<text x="82.3" y="603.27" font-size="6.6" text-anchor="end" fill="#111" stroke="#111" stroke-width="0.08">MarR</text>
<text x="82.3" y="613.60" font-size="6.6" text-anchor="end" fill="#111" stroke="#111" stroke-width="0.08">MerR</text>
<path d="M84.3 94.50H91.2 M84.3 104.50H91.2 M84.3 115.50H91.2 M84.3 125.50H91.2 M84.3 135.50H91.2 M84.3 146.50H91.2 M84.3 156.50H91.2 M84.3 166.50H91.2 M84.3 177.50H91.2 M84.3 187.50H91.2 M84.3 197.50H91.2 M84.3 208.50H91.2 M84.3 218.50H91.2 M84.3 228.50H91.2 M84.3 239.50H91.2 M84.3 249.50H91.2 M84.3 259.50H91.2 M84.3 270.50H91.2 M84.3 280.50H91.2 M84.3 290.50H91.2 M84.3 301.50H91.2 M84.3 311.50H91.2 M84.3 321.50H91.2 M84.3 332.50H91.2 M84.3 342.50H91.2 M84.3 352.50H91.2 M84.3 363.50H91.2 M84.3 373.50H91.2 M84.3 383.50H91.2 M84.3 394.50H91.2 M84.3 404.50H91.2 M84.3 414.50H91.2 M84.3 425.50H91.2 M84.3 435.50H91.2 M84.3 445.50H91.2 M84.3 456.50H91.2 M84.3 466.50H91.2 M84.3 476.50H91.2 M84.3 487.50H91.2 M84.3 497.50H91.2 M84.3 507.50H91.2 M84.3 518.50H91.2 M84.3 528.50H91.2 M84.3 538.50H91.2 M84.3 549.50H91.2 M84.3 559.50H91.2 M84.3 569.50H91.2 M84.3 580.50H91.2 M84.3 590.50H91.2 M84.3 600.50H91.2 M84.3 611.50H91.2" stroke="#111" stroke-width="1"/>
<rect x="92.50" y="624.4" width="9.54" height="11.4" fill="#c4729e"/>
<rect x="102.04" y="624.4" width="9.54" height="11.4" fill="#ac3a72"/>
<rect x="111.58" y="624.4" width="9.54" height="11.4" fill="#e4b8cc"/>
<rect x="121.12" y="624.4" width="9.54" height="11.4" fill="#dca6c0"/>
<rect x="130.66" y="624.4" width="9.54" height="11.4" fill="#d08eb0"/>
<rect x="140.20" y="624.4" width="9.54" height="11.4" fill="#c4729e"/>
<rect x="149.74" y="624.4" width="9.54" height="11.4" fill="#ac3a72"/>
<rect x="159.28" y="624.4" width="9.54" height="11.4" fill="#c4729e"/>
<rect x="168.82" y="624.4" width="9.54" height="11.4" fill="#ac3a72"/>
<rect x="178.36" y="624.4" width="9.54" height="11.4" fill="#a02462"/>
<rect x="187.90" y="624.4" width="9.54" height="11.4" fill="#d08eb0"/>
<rect x="197.44" y="624.4" width="9.54" height="11.4" fill="#e4b8cc"/>
<rect x="206.98" y="624.4" width="9.54" height="11.4" fill="#dca6c0"/>
<rect x="216.52" y="624.4" width="9.54" height="11.4" fill="#c4729e"/>
<rect x="226.06" y="624.4" width="9.54" height="11.4" fill="#dca6c0"/>
<rect x="235.60" y="624.4" width="9.54" height="11.4" fill="#f0dce6"/>
<rect x="245.14" y="624.4" width="9.54" height="11.4" fill="#ecccda"/>
<rect x="254.68" y="624.4" width="9.54" height="11.4" fill="#b85486"/>
<rect x="264.22" y="624.4" width="9.54" height="11.4" fill="#c4729e"/>
<rect x="273.76" y="624.4" width="9.54" height="11.4" fill="#ac3a72"/>
<rect x="283.30" y="624.4" width="9.54" height="11.4" fill="#ac3a72"/>
<rect x="292.84" y="624.4" width="9.54" height="11.4" fill="#ac3a72"/>
<rect x="302.38" y="624.4" width="9.54" height="11.4" fill="#ac3a72"/>
<rect x="311.92" y="624.4" width="9.54" height="11.4" fill="#c4729e"/>
<rect x="321.46" y="624.4" width="9.54" height="11.4" fill="#c4729e"/>
<rect x="331.00" y="624.4" width="9.54" height="11.4" fill="#b85486"/>
<rect x="340.54" y="624.4" width="9.54" height="11.4" fill="#b85486"/>
<rect x="350.08" y="624.4" width="9.54" height="11.4" fill="#c4729e"/>
<rect x="359.62" y="624.4" width="9.54" height="11.4" fill="#b85486"/>
<rect x="369.16" y="624.4" width="9.54" height="11.4" fill="#ac3a72"/>
<rect x="378.70" y="624.4" width="9.54" height="11.4" fill="#c4729e"/>
<rect x="388.24" y="624.4" width="9.54" height="11.4" fill="#dca6c0"/>
<rect x="397.78" y="624.4" width="9.54" height="11.4" fill="#d08eb0"/>
<rect x="407.32" y="624.4" width="9.54" height="11.4" fill="#dca6c0"/>
<rect x="416.86" y="624.4" width="9.54" height="11.4" fill="#dca6c0"/>
<rect x="426.40" y="624.4" width="9.54" height="11.4" fill="#ecccda"/>
<rect x="435.94" y="624.4" width="9.54" height="11.4" fill="#c4729e"/>
<rect x="445.48" y="624.4" width="9.54" height="11.4" fill="#b85486"/>
<rect x="455.02" y="624.4" width="9.54" height="11.4" fill="#c4729e"/>
<rect x="464.56" y="624.4" width="9.54" height="11.4" fill="#b85486"/>
<rect x="474.10" y="624.4" width="9.54" height="11.4" fill="#d08eb0"/>
<rect x="483.64" y="624.4" width="9.54" height="11.4" fill="#c4729e"/>
<rect x="493.18" y="624.4" width="9.54" height="11.4" fill="#d08eb0"/>
<rect x="502.72" y="624.4" width="9.54" height="11.4" fill="#d08eb0"/>
<rect x="512.26" y="624.4" width="9.54" height="11.4" fill="#ecccda"/>
<rect x="521.80" y="624.4" width="9.54" height="11.4" fill="#e4b8cc"/>
<rect x="531.34" y="624.4" width="9.54" height="11.4" fill="#f7eef2"/>
<rect x="540.88" y="624.4" width="9.54" height="11.4" fill="#d08eb0"/>
<rect x="550.42" y="624.4" width="9.54" height="11.4" fill="#ecccda"/>
<rect x="559.96" y="624.4" width="9.54" height="11.4" fill="#e4b8cc"/>
<rect x="569.50" y="624.4" width="9.54" height="11.4" fill="#dca6c0"/>
<rect x="579.04" y="624.4" width="9.54" height="11.4" fill="#ecccda"/>
<rect x="588.58" y="624.4" width="9.54" height="11.4" fill="#e4b8cc"/>
<rect x="598.12" y="624.4" width="9.54" height="11.4" fill="#c4729e"/>
<rect x="607.66" y="624.4" width="9.54" height="11.4" fill="#ecccda"/>
<rect x="617.20" y="624.4" width="9.54" height="11.4" fill="#dca6c0"/>
<rect x="626.74" y="624.4" width="9.54" height="11.4" fill="#f0dce6"/>
<rect x="636.28" y="624.4" width="9.54" height="11.4" fill="#e4b8cc"/>
<rect x="645.82" y="624.4" width="9.54" height="11.4" fill="#e4b8cc"/>
<rect x="655.36" y="624.4" width="9.54" height="11.4" fill="#e4b8cc"/>
<rect x="664.90" y="624.4" width="9.54" height="11.4" fill="#e4b8cc"/>
<rect x="674.44" y="624.4" width="9.54" height="11.4" fill="#dca6c0"/>
<text x="88" y="632.6" font-size="9.1" text-anchor="end" fill="#111">TF proportion</text>
<text x="86.3" y="644.8" font-size="8.8" text-anchor="end" fill="#111">Annotated Genes</text>
<rect x="93.12" y="639.2" width="6.4" height="20.00" fill="#454545"/>
<rect x="102.66" y="639.2" width="6.4" height="18.00" fill="#454545"/>
<rect x="112.20" y="639.2" width="6.4" height="27.40" fill="#454545"/>
<rect x="121.74" y="639.2" width="6.4" height="30.40" fill="#454545"/>
<rect x="131.28" y="639.2" width="6.4" height="18.50" fill="#454545"/>
<rect x="140.82" y="639.2" width="6.4" height="19.80" fill="#454545"/>
<rect x="150.36" y="639.2" width="6.4" height="12.30" fill="#454545"/>
<rect x="159.90" y="639.2" width="6.4" height="9.30" fill="#454545"/>
<rect x="169.44" y="639.2" width="6.4" height="8.60" fill="#454545"/>
<rect x="178.98" y="639.2" width="6.4" height="11.30" fill="#454545"/>
<rect x="188.52" y="639.2" width="6.4" height="9.30" fill="#454545"/>
<rect x="198.06" y="639.2" width="6.4" height="12.50" fill="#454545"/>
<rect x="207.60" y="639.2" width="6.4" height="6.60" fill="#454545"/>
<rect x="217.14" y="639.2" width="6.4" height="24.90" fill="#454545"/>
<rect x="226.68" y="639.2" width="6.4" height="33.60" fill="#454545"/>
<rect x="236.22" y="639.2" width="6.4" height="39.80" fill="#454545"/>
<rect x="245.76" y="639.2" width="6.4" height="15.40" fill="#454545"/>
<rect x="255.30" y="639.2" width="6.4" height="11.80" fill="#454545"/>
<rect x="264.84" y="639.2" width="6.4" height="38.10" fill="#454545"/>
<rect x="274.38" y="639.2" width="6.4" height="24.70" fill="#454545"/>
<rect x="283.92" y="639.2" width="6.4" height="20.60" fill="#454545"/>
<rect x="293.46" y="639.2" width="6.4" height="17.40" fill="#454545"/>
<rect x="303.00" y="639.2" width="6.4" height="30.80" fill="#454545"/>
<rect x="312.54" y="639.2" width="6.4" height="20.60" fill="#454545"/>
<rect x="322.08" y="639.2" width="6.4" height="20.60" fill="#454545"/>
<rect x="331.62" y="639.2" width="6.4" height="27.60" fill="#454545"/>
<rect x="341.16" y="639.2" width="6.4" height="20.60" fill="#454545"/>
<rect x="350.70" y="639.2" width="6.4" height="21.80" fill="#454545"/>
<rect x="360.24" y="639.2" width="6.4" height="19.80" fill="#454545"/>
<rect x="369.78" y="639.2" width="6.4" height="19.80" fill="#454545"/>
<rect x="379.32" y="639.2" width="6.4" height="20.30" fill="#454545"/>
<rect x="388.86" y="639.2" width="6.4" height="19.40" fill="#454545"/>
<rect x="398.40" y="639.2" width="6.4" height="22.70" fill="#454545"/>
<rect x="407.94" y="639.2" width="6.4" height="27.60" fill="#454545"/>
<rect x="417.48" y="639.2" width="6.4" height="48.90" fill="#454545"/>
<rect x="427.02" y="639.2" width="6.4" height="55.70" fill="#454545"/>
<rect x="436.56" y="639.2" width="6.4" height="21.80" fill="#454545"/>
<rect x="446.10" y="639.2" width="6.4" height="19.30" fill="#454545"/>
<rect x="455.64" y="639.2" width="6.4" height="26.70" fill="#454545"/>
<rect x="465.18" y="639.2" width="6.4" height="27.10" fill="#454545"/>
<rect x="474.72" y="639.2" width="6.4" height="13.70" fill="#454545"/>
<rect x="484.26" y="639.2" width="6.4" height="13.30" fill="#454545"/>
<rect x="493.80" y="639.2" width="6.4" height="17.00" fill="#454545"/>
<rect x="503.34" y="639.2" width="6.4" height="8.10" fill="#454545"/>
<rect x="512.88" y="639.2" width="6.4" height="15.90" fill="#454545"/>
<rect x="522.42" y="639.2" width="6.4" height="15.20" fill="#454545"/>
<rect x="531.96" y="639.2" width="6.4" height="29.70" fill="#454545"/>
<rect x="541.50" y="639.2" width="6.4" height="25.60" fill="#454545"/>
<rect x="551.04" y="639.2" width="6.4" height="20.40" fill="#454545"/>
<rect x="560.58" y="639.2" width="6.4" height="23.40" fill="#454545"/>
<rect x="570.12" y="639.2" width="6.4" height="35.30" fill="#454545"/>
<rect x="579.66" y="639.2" width="6.4" height="15.90" fill="#454545"/>
<rect x="589.20" y="639.2" width="6.4" height="18.50" fill="#454545"/>
<rect x="598.74" y="639.2" width="6.4" height="17.40" fill="#454545"/>
<rect x="608.28" y="639.2" width="6.4" height="20.40" fill="#454545"/>
<rect x="617.82" y="639.2" width="6.4" height="17.40" fill="#454545"/>
<rect x="627.36" y="639.2" width="6.4" height="19.60" fill="#454545"/>
<rect x="636.90" y="639.2" width="6.4" height="11.10" fill="#454545"/>
<rect x="646.44" y="639.2" width="6.4" height="36.00" fill="#454545"/>
<rect x="655.98" y="639.2" width="6.4" height="23.70" fill="#454545"/>
<rect x="665.52" y="639.2" width="6.4" height="11.80" fill="#454545"/>
<rect x="675.06" y="639.2" width="6.4" height="4.40" fill="#454545"/>
<path d="M91.2 639.5V692.5H94" stroke="#666" stroke-width="0.8" fill="none"/>
<text x="95.5" y="693.6" font-size="8" fill="#111">30000</text>
<text x="86.2" y="712.3" font-size="9.2" text-anchor="end" fill="#111">Genome Size</text>
<text x="88.4" y="736.4" font-size="8.9" text-anchor="end" fill="#111">Mb</text>
<path d="M90.8 707.3V759.8H93.6" stroke="#444" stroke-width="0.8" fill="none"/>
<text x="94.8" y="762.4" font-size="8" fill="#111">1200</text>
<rect x="92.57" y="706.8" width="6.4" height="1.00" fill="#999"/>
<rect x="102.11" y="706.8" width="6.4" height="2.40" fill="#999"/>
<rect x="111.65" y="706.8" width="6.4" height="2.40" fill="#999"/>
<rect x="121.19" y="706.8" width="6.4" height="1.00" fill="#999"/>
<rect x="130.73" y="706.8" width="6.4" height="1.60" fill="#999"/>
<rect x="140.27" y="706.8" width="6.4" height="2.40" fill="#999"/>
<rect x="149.81" y="706.8" width="6.4" height="2.40" fill="#999"/>
<rect x="159.35" y="706.8" width="6.4" height="1.00" fill="#999"/>
<rect x="168.89" y="706.8" width="6.4" height="2.40" fill="#999"/>
<rect x="178.43" y="706.8" width="6.4" height="1.00" fill="#999"/>
<rect x="187.97" y="706.8" width="6.4" height="1.00" fill="#999"/>
<rect x="197.51" y="706.8" width="6.4" height="2.40" fill="#999"/>
<rect x="207.05" y="706.8" width="6.4" height="2.40" fill="#999"/>
<rect x="216.59" y="706.8" width="6.4" height="1.00" fill="#999"/>
<rect x="226.13" y="706.8" width="6.4" height="1.00" fill="#999"/>
<rect x="235.67" y="706.8" width="6.4" height="5.20" fill="#999"/>
<rect x="245.21" y="706.8" width="6.4" height="2.40" fill="#999"/>
<rect x="254.75" y="706.8" width="6.4" height="1.60" fill="#999"/>
<rect x="264.29" y="706.8" width="6.4" height="1.00" fill="#999"/>
<rect x="273.83" y="706.8" width="6.4" height="1.60" fill="#999"/>
<rect x="283.37" y="706.8" width="6.4" height="2.80" fill="#999"/>
<rect x="292.91" y="706.8" width="6.4" height="1.00" fill="#999"/>
<rect x="302.45" y="706.8" width="6.4" height="1.60" fill="#999"/>
<rect x="311.99" y="706.8" width="6.4" height="2.40" fill="#999"/>
<rect x="321.53" y="706.8" width="6.4" height="1.60" fill="#999"/>
<rect x="331.07" y="706.8" width="6.4" height="2.40" fill="#999"/>
<rect x="340.61" y="706.8" width="6.4" height="1.60" fill="#999"/>
<rect x="350.15" y="706.8" width="6.4" height="1.60" fill="#999"/>
<rect x="359.69" y="706.8" width="6.4" height="1.60" fill="#999"/>
<rect x="369.23" y="706.8" width="6.4" height="1.60" fill="#999"/>
<rect x="378.77" y="706.8" width="6.4" height="1.60" fill="#999"/>
<rect x="388.31" y="706.8" width="6.4" height="1.60" fill="#999"/>
<rect x="397.85" y="706.8" width="6.4" height="2.60" fill="#999"/>
<rect x="407.39" y="706.8" width="6.4" height="1.60" fill="#999"/>
<rect x="416.93" y="706.8" width="6.4" height="5.90" fill="#999"/>
<rect x="426.47" y="706.8" width="6.4" height="33.70" fill="#999"/>
<rect x="436.01" y="706.8" width="6.4" height="5.50" fill="#999"/>
<rect x="445.55" y="706.8" width="6.4" height="3.80" fill="#999"/>
<rect x="455.09" y="706.8" width="6.4" height="1.80" fill="#999"/>
<rect x="464.63" y="706.8" width="6.4" height="51.20" fill="#999"/>
<rect x="474.17" y="706.8" width="6.4" height="28.80" fill="#999"/>
<rect x="483.71" y="706.8" width="6.4" height="1.00" fill="#999"/>
<rect x="493.25" y="706.8" width="6.4" height="1.60" fill="#999"/>
<rect x="502.79" y="706.8" width="6.4" height="1.60" fill="#999"/>
<rect x="512.33" y="706.8" width="6.4" height="1.60" fill="#999"/>
<rect x="521.87" y="706.8" width="6.4" height="1.00" fill="#999"/>
<rect x="531.41" y="706.8" width="6.4" height="1.60" fill="#999"/>
<rect x="540.95" y="706.8" width="6.4" height="2.60" fill="#999"/>
<rect x="550.49" y="706.8" width="6.4" height="4.20" fill="#999"/>
<rect x="560.03" y="706.8" width="6.4" height="3.20" fill="#999"/>
<rect x="569.57" y="706.8" width="6.4" height="2.60" fill="#999"/>
<rect x="579.11" y="706.8" width="6.4" height="1.60" fill="#999"/>
<rect x="588.65" y="706.8" width="6.4" height="2.40" fill="#999"/>
<rect x="598.19" y="706.8" width="6.4" height="1.60" fill="#999"/>
<rect x="607.73" y="706.8" width="6.4" height="1.00" fill="#999"/>
<rect x="617.27" y="706.8" width="6.4" height="1.60" fill="#999"/>
<rect x="626.81" y="706.8" width="6.4" height="1.60" fill="#999"/>
<rect x="636.35" y="706.8" width="6.4" height="1.60" fill="#999"/>
<rect x="645.89" y="706.8" width="6.4" height="2.40" fill="#999"/>
<rect x="655.43" y="706.8" width="6.4" height="1.60" fill="#999"/>
<rect x="664.97" y="706.8" width="6.4" height="1.00" fill="#999"/>
<rect x="674.51" y="706.8" width="6.4" height="0.60" fill="#999"/>
<rect x="599.5" y="720.2" width="75.2" height="13" fill="url(#vir)" stroke="#222" stroke-width="0.6"/>
<text x="599.3" y="742.4" font-size="9" fill="#111">1</text><text x="631.6" y="743.6" font-size="10.3" fill="#111">%</text><text x="666" y="742.4" font-size="9" fill="#111">20</text>
<rect x="600.5" y="754.3" width="74.2" height="12.5" fill="url(#pnk)" stroke="#222" stroke-width="0.6"/>
<text x="600.3" y="776.6" font-size="9" fill="#111">1</text><text x="633" y="778.4" font-size="10.3" fill="#111">%</text><text x="671" y="776.6" font-size="9" fill="#111">7</text>
<text x="126.5" y="775.2" font-size="10.5" fill="#d5694f">Dikarya</text>
<text x="325" y="775.2" font-size="10.2" fill="#4fb0a0">EDF</text>
<rect x="103.2" y="779.3" width="83.2" height="43.9" fill="none" stroke="#d5694f" stroke-width="1"/>
<path d="M194 779.6H523.9V874.3H103.1V828.2H194Z" fill="none" stroke="#4fb0a0" stroke-width="1"/>
<circle cx="113" cy="787.5" r="6.6" fill="#5fb39a"/>
<text x="123" y="789.1" font-size="9.2" fill="#111">Ascomycota</text>
<circle cx="113" cy="813" r="6.6" fill="#e8a890"/>
<text x="123" y="815.2" font-size="9.2" fill="#111">Basidiomycota</text>
<circle cx="113" cy="838.5" r="6.6" fill="#e8ea88"/>
<text x="122.5" y="840.7" font-size="9.2" fill="#111">Mucoromycota</text>
<circle cx="113" cy="865" r="6.6" fill="#e8c888"/>
<text x="122.5" y="867.2" font-size="9.2" fill="#111">Mortierellomycota</text>
<circle cx="208.4" cy="787.5" r="6.6" fill="#e8b8f4"/>
<text x="216" y="789.1" font-size="9.2" fill="#111">Glomeromycota</text>
<circle cx="208.4" cy="813" r="6.6" fill="#9098f0"/>
<text x="216" y="815.2" font-size="9.2" fill="#111">Entomopthoromycota</text>
<circle cx="208.4" cy="838.5" r="6.6" fill="#5866c0"/>
<text x="216" y="840.7" font-size="9.2" fill="#111">Kickxellomycota</text>
<circle cx="208.4" cy="865" r="6.6" fill="#8a60f0"/>
<text x="216" y="867.2" font-size="9.2" fill="#111">Zoopagomycota</text>
<circle cx="314.9" cy="787.5" r="6.6" fill="#d070d8"/>
<text x="322.8" y="789.1" font-size="9.2" fill="#111">Olpidiomycota</text>
<circle cx="314.9" cy="813" r="6.6" fill="#80c0e0"/>
<text x="322.8" y="815.2" font-size="9.2" fill="#111">Basidiobolomycota</text>
<circle cx="314.9" cy="838.5" r="6.6" fill="#d8f060"/>
<text x="322.8" y="840.7" font-size="9.2" fill="#111">Monoblepharomycota</text>
<circle cx="314.9" cy="865" r="6.6" fill="#80d860"/>
<text x="322.8" y="867.2" font-size="9.2" fill="#111">Neocallimastigomycota</text>
<circle cx="431.7" cy="787.5" r="6.6" fill="#50c070"/>
<text x="439.8" y="789.1" font-size="9.2" fill="#111">Chytridiomycota</text>
<circle cx="431.7" cy="813" r="6.6" fill="#5a9048"/>
<text x="439.8" y="815.2" font-size="9.2" fill="#111">Blastocladiomycota</text>
<circle cx="431.7" cy="838.5" r="6.6" fill="#e09850"/>
<text x="439.8" y="840.7" font-size="9.2" fill="#111">Rozellomycota</text>
<circle cx="431.7" cy="865" r="6.6" fill="#e05a5a"/>
<text x="439.8" y="867.2" font-size="9.2" fill="#111">Microsporidia</text>
</svg></body></html>
